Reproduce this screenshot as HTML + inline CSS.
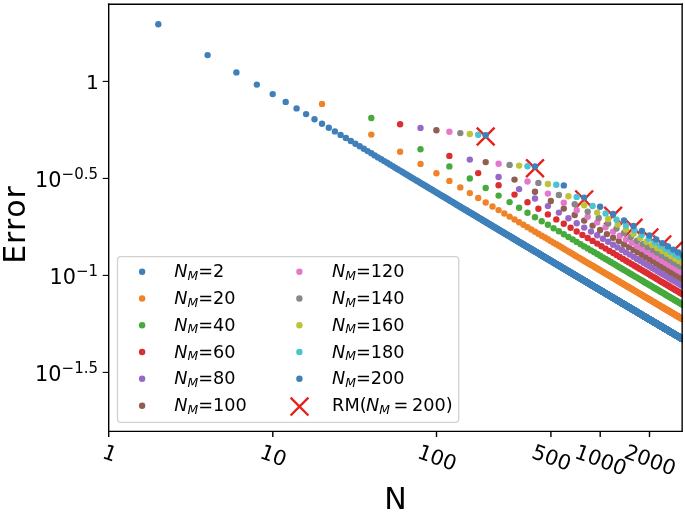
<!DOCTYPE html>
<html lang="en"><head><meta charset="utf-8"><title>Error vs N</title>
<style>html,body{margin:0;padding:0;background:#fff;}svg{display:block;will-change:transform;}text{font-family:'DejaVu Sans','Liberation Sans',sans-serif;fill:#000;font-kerning:none;}</style></head><body>
<svg width="685" height="512" viewBox="0 0 685 512">
<rect width="685" height="512" fill="#fff"/>
<defs><clipPath id="ax"><rect x="108.9" y="3.7" width="573.7" height="427.40000000000003"/></clipPath></defs>
<g clip-path="url(#ax)">
<g stroke="#e8201c" stroke-width="2.4" stroke-linecap="butt">
<path d="M476.8 127.6L494.6 145.4M476.8 145.4L494.6 127.6"/>
<path d="M526.1 159.4L543.9 177.2M526.1 177.2L543.9 159.4"/>
<path d="M575.3 190.5L593.1 208.3M575.3 208.3L593.1 190.5"/>
<path d="M604.2 206.8L622.0 224.6M604.2 224.6L622.0 206.8"/>
<path d="M624.6 218.9L642.4 236.7M624.6 236.7L642.4 218.9"/>
<path d="M640.5 228.5L658.3 246.3M640.5 246.3L658.3 228.5"/>
<path d="M653.4 235.5L671.2 253.3M653.4 253.3L671.2 235.5"/>
<path d="M664.4 242.0L682.2 259.8M664.4 259.8L682.2 242.0"/>
<path d="M673.9 248.1L691.7 265.9M673.9 265.9L691.7 248.1"/>
</g>
<g fill="#3f80ba">
<circle cx="158.3" cy="24.3" r="3.2"/>
<circle cx="207.6" cy="55.1" r="3.2"/>
<circle cx="236.4" cy="72.4" r="3.2"/>
<circle cx="256.8" cy="84.6" r="3.2"/>
<circle cx="272.7" cy="94.1" r="3.2"/>
<circle cx="285.7" cy="101.9" r="3.2"/>
<circle cx="296.6" cy="108.4" r="3.2"/>
<circle cx="306.1" cy="114.1" r="3.2"/>
<circle cx="314.5" cy="119.2" r="3.2"/>
<circle cx="322.0" cy="123.7" r="3.2"/>
<circle cx="328.8" cy="127.7" r="3.2"/>
<circle cx="334.9" cy="131.4" r="3.2"/>
<circle cx="340.6" cy="134.9" r="3.2"/>
<circle cx="345.9" cy="138.0" r="3.2"/>
<circle cx="350.8" cy="141.0" r="3.2"/>
<circle cx="355.4" cy="143.7" r="3.2"/>
<circle cx="359.7" cy="146.3" r="3.2"/>
<circle cx="363.8" cy="148.8" r="3.2"/>
<circle cx="367.6" cy="151.1" r="3.2"/>
<circle cx="371.3" cy="153.3" r="3.2"/>
<circle cx="374.7" cy="155.4" r="3.2"/>
<circle cx="378.0" cy="157.4" r="3.2"/>
<circle cx="381.2" cy="159.3" r="3.2"/>
<circle cx="384.2" cy="161.1" r="3.2"/>
<circle cx="387.1" cy="162.8" r="3.2"/>
<circle cx="389.9" cy="164.5" r="3.2"/>
<circle cx="392.6" cy="166.1" r="3.2"/>
<circle cx="395.2" cy="167.7" r="3.2"/>
<circle cx="397.7" cy="169.2" r="3.2"/>
<circle cx="400.1" cy="170.6" r="3.2"/>
<circle cx="402.4" cy="172.0" r="3.2"/>
<circle cx="404.7" cy="173.4" r="3.2"/>
<circle cx="406.9" cy="174.7" r="3.2"/>
<circle cx="409.0" cy="176.0" r="3.2"/>
<circle cx="411.0" cy="177.2" r="3.2"/>
<circle cx="413.0" cy="178.4" r="3.2"/>
<circle cx="415.0" cy="179.6" r="3.2"/>
<circle cx="416.9" cy="180.7" r="3.2"/>
<circle cx="418.7" cy="181.8" r="3.2"/>
<circle cx="420.5" cy="182.9" r="3.2"/>
<circle cx="422.3" cy="184.0" r="3.2"/>
<circle cx="424.0" cy="185.0" r="3.2"/>
<circle cx="425.7" cy="186.0" r="3.2"/>
<circle cx="427.3" cy="187.0" r="3.2"/>
<circle cx="428.9" cy="187.9" r="3.2"/>
<circle cx="430.5" cy="188.9" r="3.2"/>
<circle cx="432.0" cy="189.8" r="3.2"/>
<circle cx="433.5" cy="190.7" r="3.2"/>
<circle cx="435.0" cy="191.6" r="3.2"/>
<circle cx="436.4" cy="192.4" r="3.2"/>
<circle cx="437.8" cy="193.3" r="3.2"/>
<circle cx="439.2" cy="194.1" r="3.2"/>
<circle cx="440.5" cy="194.9" r="3.2"/>
<circle cx="441.9" cy="195.7" r="3.2"/>
<circle cx="443.2" cy="196.5" r="3.2"/>
<circle cx="444.5" cy="197.3" r="3.2"/>
<circle cx="445.7" cy="198.0" r="3.2"/>
<circle cx="447.0" cy="198.8" r="3.2"/>
<circle cx="448.2" cy="199.5" r="3.2"/>
<circle cx="449.4" cy="200.2" r="3.2"/>
<circle cx="450.5" cy="200.9" r="3.2"/>
<circle cx="451.7" cy="201.6" r="3.2"/>
<circle cx="452.8" cy="202.3" r="3.2"/>
<circle cx="454.0" cy="203.0" r="3.2"/>
<circle cx="455.1" cy="203.6" r="3.2"/>
<circle cx="456.1" cy="204.3" r="3.2"/>
<circle cx="457.2" cy="204.9" r="3.2"/>
<circle cx="458.3" cy="205.6" r="3.2"/>
<circle cx="459.3" cy="206.2" r="3.2"/>
<circle cx="460.3" cy="206.8" r="3.2"/>
<circle cx="461.3" cy="207.4" r="3.2"/>
<circle cx="462.3" cy="208.0" r="3.2"/>
<circle cx="463.3" cy="208.6" r="3.2"/>
<circle cx="464.3" cy="209.2" r="3.2"/>
<circle cx="465.2" cy="209.7" r="3.2"/>
<circle cx="466.2" cy="210.3" r="3.2"/>
<circle cx="467.1" cy="210.8" r="3.2"/>
<circle cx="468.0" cy="211.4" r="3.2"/>
<circle cx="468.9" cy="211.9" r="3.2"/>
<circle cx="469.8" cy="212.5" r="3.2"/>
<circle cx="470.7" cy="213.0" r="3.2"/>
<circle cx="471.6" cy="213.5" r="3.2"/>
<circle cx="472.4" cy="214.0" r="3.2"/>
<circle cx="473.3" cy="214.5" r="3.2"/>
<circle cx="474.1" cy="215.0" r="3.2"/>
<circle cx="475.0" cy="215.5" r="3.2"/>
<circle cx="475.8" cy="216.0" r="3.2"/>
<circle cx="476.6" cy="216.5" r="3.2"/>
<circle cx="477.4" cy="217.0" r="3.2"/>
<circle cx="478.2" cy="217.5" r="3.2"/>
<circle cx="479.0" cy="217.9" r="3.2"/>
<circle cx="479.8" cy="218.4" r="3.2"/>
<circle cx="480.5" cy="218.9" r="3.2"/>
<circle cx="481.3" cy="219.3" r="3.2"/>
<circle cx="482.0" cy="219.8" r="3.2"/>
<circle cx="482.8" cy="220.2" r="3.2"/>
<circle cx="483.5" cy="220.7" r="3.2"/>
<circle cx="484.2" cy="221.1" r="3.2"/>
<circle cx="485.0" cy="221.5" r="3.2"/>
<circle cx="485.7" cy="222.0" r="3.2"/>
<circle cx="486.4" cy="222.4" r="3.2"/>
<circle cx="487.1" cy="222.8" r="3.2"/>
<circle cx="487.8" cy="223.2" r="3.2"/>
<circle cx="488.5" cy="223.6" r="3.2"/>
<circle cx="489.1" cy="224.0" r="3.2"/>
<circle cx="489.8" cy="224.4" r="3.2"/>
<circle cx="490.5" cy="224.8" r="3.2"/>
<circle cx="491.2" cy="225.2" r="3.2"/>
<circle cx="491.8" cy="225.6" r="3.2"/>
<circle cx="492.5" cy="226.0" r="3.2"/>
<circle cx="493.1" cy="226.4" r="3.2"/>
<circle cx="493.7" cy="226.8" r="3.2"/>
<circle cx="494.4" cy="227.1" r="3.2"/>
<circle cx="495.0" cy="227.5" r="3.2"/>
<circle cx="495.6" cy="227.9" r="3.2"/>
<circle cx="496.2" cy="228.3" r="3.2"/>
<circle cx="496.8" cy="228.6" r="3.2"/>
<circle cx="497.4" cy="229.0" r="3.2"/>
<circle cx="498.0" cy="229.3" r="3.2"/>
<circle cx="498.6" cy="229.7" r="3.2"/>
<circle cx="499.2" cy="230.1" r="3.2"/>
<circle cx="499.8" cy="230.4" r="3.2"/>
<circle cx="500.4" cy="230.7" r="3.2"/>
<circle cx="501.0" cy="231.1" r="3.2"/>
<circle cx="501.5" cy="231.4" r="3.2"/>
<circle cx="502.1" cy="231.8" r="3.2"/>
<circle cx="502.7" cy="232.1" r="3.2"/>
<circle cx="503.2" cy="232.4" r="3.2"/>
<circle cx="503.8" cy="232.8" r="3.2"/>
<circle cx="504.3" cy="233.1" r="3.2"/>
<circle cx="504.9" cy="233.4" r="3.2"/>
<circle cx="505.4" cy="233.7" r="3.2"/>
<circle cx="506.0" cy="234.1" r="3.2"/>
<circle cx="506.5" cy="234.4" r="3.2"/>
<circle cx="507.0" cy="234.7" r="3.2"/>
<circle cx="507.5" cy="235.0" r="3.2"/>
<circle cx="508.1" cy="235.3" r="3.2"/>
<circle cx="508.6" cy="235.6" r="3.2"/>
<circle cx="509.1" cy="235.9" r="3.2"/>
<circle cx="509.6" cy="236.2" r="3.2"/>
<circle cx="510.1" cy="236.5" r="3.2"/>
<circle cx="510.6" cy="236.8" r="3.2"/>
<circle cx="511.1" cy="237.1" r="3.2"/>
<circle cx="511.6" cy="237.4" r="3.2"/>
<circle cx="512.1" cy="237.7" r="3.2"/>
<circle cx="512.6" cy="238.0" r="3.2"/>
<circle cx="513.1" cy="238.3" r="3.2"/>
<circle cx="513.6" cy="238.6" r="3.2"/>
<circle cx="514.0" cy="238.9" r="3.2"/>
<circle cx="514.5" cy="239.2" r="3.2"/>
<circle cx="515.0" cy="239.4" r="3.2"/>
<circle cx="515.4" cy="239.7" r="3.2"/>
<circle cx="515.9" cy="240.0" r="3.2"/>
<circle cx="516.4" cy="240.3" r="3.2"/>
<circle cx="516.8" cy="240.6" r="3.2"/>
<circle cx="517.3" cy="240.8" r="3.2"/>
<circle cx="517.7" cy="241.1" r="3.2"/>
<circle cx="518.2" cy="241.4" r="3.2"/>
<circle cx="518.6" cy="241.6" r="3.2"/>
<circle cx="519.1" cy="241.9" r="3.2"/>
<circle cx="519.5" cy="242.2" r="3.2"/>
<circle cx="520.0" cy="242.4" r="3.2"/>
<circle cx="520.4" cy="242.7" r="3.2"/>
<circle cx="520.8" cy="243.0" r="3.2"/>
<circle cx="521.3" cy="243.2" r="3.2"/>
<circle cx="521.7" cy="243.5" r="3.2"/>
<circle cx="522.1" cy="243.7" r="3.2"/>
<circle cx="522.6" cy="244.0" r="3.2"/>
<circle cx="523.0" cy="244.2" r="3.2"/>
<circle cx="523.4" cy="244.5" r="3.2"/>
<circle cx="523.8" cy="244.7" r="3.2"/>
<circle cx="524.2" cy="245.0" r="3.2"/>
<circle cx="524.6" cy="245.2" r="3.2"/>
<circle cx="525.1" cy="245.5" r="3.2"/>
<circle cx="525.5" cy="245.7" r="3.2"/>
<circle cx="525.9" cy="245.9" r="3.2"/>
<circle cx="526.3" cy="246.2" r="3.2"/>
<circle cx="526.7" cy="246.4" r="3.2"/>
<circle cx="527.1" cy="246.7" r="3.2"/>
<circle cx="527.5" cy="246.9" r="3.2"/>
<circle cx="527.9" cy="247.1" r="3.2"/>
<circle cx="528.3" cy="247.4" r="3.2"/>
<circle cx="528.6" cy="247.6" r="3.2"/>
<circle cx="529.0" cy="247.8" r="3.2"/>
<circle cx="529.4" cy="248.1" r="3.2"/>
<circle cx="529.8" cy="248.3" r="3.2"/>
<circle cx="530.2" cy="248.5" r="3.2"/>
<circle cx="530.6" cy="248.7" r="3.2"/>
<circle cx="530.9" cy="249.0" r="3.2"/>
<circle cx="531.3" cy="249.2" r="3.2"/>
<circle cx="531.7" cy="249.4" r="3.2"/>
<circle cx="532.1" cy="249.6" r="3.2"/>
<circle cx="532.4" cy="249.8" r="3.2"/>
<circle cx="532.8" cy="250.1" r="3.2"/>
<circle cx="533.2" cy="250.3" r="3.2"/>
<circle cx="533.5" cy="250.5" r="3.2"/>
<circle cx="533.9" cy="250.7" r="3.2"/>
<circle cx="534.2" cy="250.9" r="3.2"/>
<circle cx="534.6" cy="251.1" r="3.2"/>
<circle cx="535.0" cy="251.4" r="3.2"/>
<circle cx="535.3" cy="251.6" r="3.2"/>
<circle cx="535.7" cy="251.8" r="3.2"/>
<circle cx="536.0" cy="252.0" r="3.2"/>
<circle cx="536.4" cy="252.2" r="3.2"/>
<circle cx="536.7" cy="252.4" r="3.2"/>
<circle cx="537.1" cy="252.6" r="3.2"/>
<circle cx="537.4" cy="252.8" r="3.2"/>
<circle cx="537.7" cy="253.0" r="3.2"/>
<circle cx="538.1" cy="253.2" r="3.2"/>
<circle cx="538.4" cy="253.4" r="3.2"/>
<circle cx="538.8" cy="253.6" r="3.2"/>
<circle cx="539.1" cy="253.8" r="3.2"/>
<circle cx="539.4" cy="254.0" r="3.2"/>
<circle cx="539.8" cy="254.2" r="3.2"/>
<circle cx="540.1" cy="254.4" r="3.2"/>
<circle cx="540.4" cy="254.6" r="3.2"/>
<circle cx="540.8" cy="254.8" r="3.2"/>
<circle cx="541.1" cy="255.0" r="3.2"/>
<circle cx="541.4" cy="255.2" r="3.2"/>
<circle cx="541.7" cy="255.4" r="3.2"/>
<circle cx="542.1" cy="255.6" r="3.2"/>
<circle cx="542.4" cy="255.8" r="3.2"/>
<circle cx="542.7" cy="256.0" r="3.2"/>
<circle cx="543.0" cy="256.2" r="3.2"/>
<circle cx="543.3" cy="256.3" r="3.2"/>
<circle cx="543.6" cy="256.5" r="3.2"/>
<circle cx="544.0" cy="256.7" r="3.2"/>
<circle cx="544.3" cy="256.9" r="3.2"/>
<circle cx="544.6" cy="257.1" r="3.2"/>
<circle cx="544.9" cy="257.3" r="3.2"/>
<circle cx="545.2" cy="257.5" r="3.2"/>
<circle cx="545.5" cy="257.6" r="3.2"/>
<circle cx="545.8" cy="257.8" r="3.2"/>
<circle cx="546.1" cy="258.0" r="3.2"/>
<circle cx="546.4" cy="258.2" r="3.2"/>
<circle cx="546.7" cy="258.4" r="3.2"/>
<circle cx="547.0" cy="258.5" r="3.2"/>
<circle cx="547.3" cy="258.7" r="3.2"/>
<circle cx="547.6" cy="258.9" r="3.2"/>
<circle cx="547.9" cy="259.1" r="3.2"/>
<circle cx="548.2" cy="259.3" r="3.2"/>
<circle cx="548.5" cy="259.4" r="3.2"/>
<circle cx="548.8" cy="259.6" r="3.2"/>
<circle cx="549.1" cy="259.8" r="3.2"/>
<circle cx="549.4" cy="259.9" r="3.2"/>
<circle cx="549.7" cy="260.1" r="3.2"/>
<circle cx="550.0" cy="260.3" r="3.2"/>
<circle cx="550.3" cy="260.5" r="3.2"/>
<circle cx="550.5" cy="260.6" r="3.2"/>
<circle cx="550.8" cy="260.8" r="3.2"/>
<circle cx="551.1" cy="261.0" r="3.2"/>
<circle cx="551.4" cy="261.1" r="3.2"/>
<circle cx="551.7" cy="261.3" r="3.2"/>
<circle cx="551.9" cy="261.5" r="3.2"/>
<circle cx="552.2" cy="261.6" r="3.2"/>
<circle cx="552.5" cy="261.8" r="3.2"/>
<circle cx="552.8" cy="262.0" r="3.2"/>
<circle cx="553.1" cy="262.1" r="3.2"/>
<circle cx="553.3" cy="262.3" r="3.2"/>
<circle cx="553.6" cy="262.5" r="3.2"/>
<circle cx="553.9" cy="262.6" r="3.2"/>
<circle cx="554.2" cy="262.8" r="3.2"/>
<circle cx="554.4" cy="262.9" r="3.2"/>
<circle cx="554.7" cy="263.1" r="3.2"/>
<circle cx="555.0" cy="263.3" r="3.2"/>
<circle cx="555.2" cy="263.4" r="3.2"/>
<circle cx="555.5" cy="263.6" r="3.2"/>
<circle cx="555.8" cy="263.7" r="3.2"/>
<circle cx="556.0" cy="263.9" r="3.2"/>
<circle cx="556.3" cy="264.1" r="3.2"/>
<circle cx="556.6" cy="264.2" r="3.2"/>
<circle cx="556.8" cy="264.4" r="3.2"/>
<circle cx="557.1" cy="264.5" r="3.2"/>
<circle cx="557.3" cy="264.7" r="3.2"/>
<circle cx="557.6" cy="264.8" r="3.2"/>
<circle cx="557.9" cy="265.0" r="3.2"/>
<circle cx="558.1" cy="265.1" r="3.2"/>
<circle cx="558.4" cy="265.3" r="3.2"/>
<circle cx="558.6" cy="265.4" r="3.2"/>
<circle cx="558.9" cy="265.6" r="3.2"/>
<circle cx="559.1" cy="265.7" r="3.2"/>
<circle cx="559.4" cy="265.9" r="3.2"/>
<circle cx="559.6" cy="266.0" r="3.2"/>
<circle cx="559.9" cy="266.2" r="3.2"/>
<circle cx="560.1" cy="266.3" r="3.2"/>
<circle cx="560.4" cy="266.5" r="3.2"/>
<circle cx="560.6" cy="266.6" r="3.2"/>
<circle cx="560.9" cy="266.8" r="3.2"/>
<circle cx="561.1" cy="266.9" r="3.2"/>
<circle cx="561.4" cy="267.1" r="3.2"/>
<circle cx="561.6" cy="267.2" r="3.2"/>
<circle cx="561.9" cy="267.4" r="3.2"/>
<circle cx="562.1" cy="267.5" r="3.2"/>
<circle cx="562.3" cy="267.7" r="3.2"/>
<circle cx="562.6" cy="267.8" r="3.2"/>
<circle cx="562.8" cy="267.9" r="3.2"/>
<circle cx="563.1" cy="268.1" r="3.2"/>
<circle cx="563.3" cy="268.2" r="3.2"/>
<circle cx="563.5" cy="268.4" r="3.2"/>
<circle cx="563.8" cy="268.5" r="3.2"/>
<circle cx="564.0" cy="268.7" r="3.2"/>
<circle cx="564.3" cy="268.8" r="3.2"/>
<circle cx="564.5" cy="268.9" r="3.2"/>
<circle cx="564.7" cy="269.1" r="3.2"/>
<circle cx="565.0" cy="269.2" r="3.2"/>
<circle cx="565.2" cy="269.4" r="3.2"/>
<circle cx="565.4" cy="269.5" r="3.2"/>
<circle cx="565.7" cy="269.6" r="3.2"/>
<circle cx="565.9" cy="269.8" r="3.2"/>
<circle cx="566.1" cy="269.9" r="3.2"/>
<circle cx="566.3" cy="270.0" r="3.2"/>
<circle cx="566.6" cy="270.2" r="3.2"/>
<circle cx="566.8" cy="270.3" r="3.2"/>
<circle cx="567.0" cy="270.4" r="3.2"/>
<circle cx="567.3" cy="270.6" r="3.2"/>
<circle cx="567.5" cy="270.7" r="3.2"/>
<circle cx="567.7" cy="270.8" r="3.2"/>
<circle cx="567.9" cy="271.0" r="3.2"/>
<circle cx="568.1" cy="271.1" r="3.2"/>
<circle cx="568.4" cy="271.2" r="3.2"/>
<circle cx="568.6" cy="271.4" r="3.2"/>
<circle cx="568.8" cy="271.5" r="3.2"/>
<circle cx="569.0" cy="271.6" r="3.2"/>
<circle cx="569.3" cy="271.8" r="3.2"/>
<circle cx="569.5" cy="271.9" r="3.2"/>
<circle cx="569.7" cy="272.0" r="3.2"/>
<circle cx="569.9" cy="272.2" r="3.2"/>
<circle cx="570.1" cy="272.3" r="3.2"/>
<circle cx="570.3" cy="272.4" r="3.2"/>
<circle cx="570.6" cy="272.5" r="3.2"/>
<circle cx="570.8" cy="272.7" r="3.2"/>
<circle cx="571.0" cy="272.8" r="3.2"/>
<circle cx="571.2" cy="272.9" r="3.2"/>
<circle cx="571.4" cy="273.1" r="3.2"/>
<circle cx="571.6" cy="273.2" r="3.2"/>
<circle cx="571.8" cy="273.3" r="3.2"/>
<circle cx="572.1" cy="273.4" r="3.2"/>
<circle cx="572.3" cy="273.6" r="3.2"/>
<circle cx="572.5" cy="273.7" r="3.2"/>
<circle cx="572.7" cy="273.8" r="3.2"/>
<circle cx="572.9" cy="273.9" r="3.2"/>
<circle cx="573.1" cy="274.1" r="3.2"/>
<circle cx="573.3" cy="274.2" r="3.2"/>
<circle cx="573.5" cy="274.3" r="3.2"/>
<circle cx="573.7" cy="274.4" r="3.2"/>
<circle cx="573.9" cy="274.5" r="3.2"/>
<circle cx="574.1" cy="274.7" r="3.2"/>
<circle cx="574.3" cy="274.8" r="3.2"/>
<circle cx="574.5" cy="274.9" r="3.2"/>
<circle cx="574.7" cy="275.0" r="3.2"/>
<circle cx="574.9" cy="275.2" r="3.2"/>
<circle cx="575.1" cy="275.3" r="3.2"/>
<circle cx="575.3" cy="275.4" r="3.2"/>
<circle cx="575.6" cy="275.5" r="3.2"/>
<circle cx="575.8" cy="275.6" r="3.2"/>
<circle cx="576.0" cy="275.7" r="3.2"/>
<circle cx="576.2" cy="275.9" r="3.2"/>
<circle cx="576.3" cy="276.0" r="3.2"/>
<circle cx="576.5" cy="276.1" r="3.2"/>
<circle cx="576.7" cy="276.2" r="3.2"/>
<circle cx="576.9" cy="276.3" r="3.2"/>
<circle cx="577.1" cy="276.5" r="3.2"/>
<circle cx="577.3" cy="276.6" r="3.2"/>
<circle cx="577.5" cy="276.7" r="3.2"/>
<circle cx="577.7" cy="276.8" r="3.2"/>
<circle cx="577.9" cy="276.9" r="3.2"/>
<circle cx="578.1" cy="277.0" r="3.2"/>
<circle cx="578.3" cy="277.2" r="3.2"/>
<circle cx="578.5" cy="277.3" r="3.2"/>
<circle cx="578.7" cy="277.4" r="3.2"/>
<circle cx="578.9" cy="277.5" r="3.2"/>
<circle cx="579.1" cy="277.6" r="3.2"/>
<circle cx="579.3" cy="277.7" r="3.2"/>
<circle cx="579.5" cy="277.8" r="3.2"/>
<circle cx="579.6" cy="277.9" r="3.2"/>
<circle cx="579.8" cy="278.1" r="3.2"/>
<circle cx="580.0" cy="278.2" r="3.2"/>
<circle cx="580.2" cy="278.3" r="3.2"/>
<circle cx="580.4" cy="278.4" r="3.2"/>
<circle cx="580.6" cy="278.5" r="3.2"/>
<circle cx="580.8" cy="278.6" r="3.2"/>
<circle cx="581.0" cy="278.7" r="3.2"/>
<circle cx="581.1" cy="278.8" r="3.2"/>
<circle cx="581.3" cy="278.9" r="3.2"/>
<circle cx="581.5" cy="279.1" r="3.2"/>
<circle cx="581.7" cy="279.2" r="3.2"/>
<circle cx="581.9" cy="279.3" r="3.2"/>
<circle cx="582.1" cy="279.4" r="3.2"/>
<circle cx="582.3" cy="279.5" r="3.2"/>
<circle cx="582.4" cy="279.6" r="3.2"/>
<circle cx="582.6" cy="279.7" r="3.2"/>
<circle cx="582.8" cy="279.8" r="3.2"/>
<circle cx="583.0" cy="279.9" r="3.2"/>
<circle cx="583.2" cy="280.0" r="3.2"/>
<circle cx="583.3" cy="280.1" r="3.2"/>
<circle cx="583.5" cy="280.2" r="3.2"/>
<circle cx="583.7" cy="280.4" r="3.2"/>
<circle cx="583.9" cy="280.5" r="3.2"/>
<circle cx="584.1" cy="280.6" r="3.2"/>
<circle cx="584.2" cy="280.7" r="3.2"/>
<circle cx="584.4" cy="280.8" r="3.2"/>
<circle cx="584.6" cy="280.9" r="3.2"/>
<circle cx="584.8" cy="281.0" r="3.2"/>
<circle cx="584.9" cy="281.1" r="3.2"/>
<circle cx="585.1" cy="281.2" r="3.2"/>
<circle cx="585.3" cy="281.3" r="3.2"/>
<circle cx="585.5" cy="281.4" r="3.2"/>
<circle cx="585.6" cy="281.5" r="3.2"/>
<circle cx="585.8" cy="281.6" r="3.2"/>
<circle cx="586.0" cy="281.7" r="3.2"/>
<circle cx="586.2" cy="281.8" r="3.2"/>
<circle cx="586.3" cy="281.9" r="3.2"/>
<circle cx="586.5" cy="282.0" r="3.2"/>
<circle cx="586.7" cy="282.1" r="3.2"/>
<circle cx="586.9" cy="282.2" r="3.2"/>
<circle cx="587.0" cy="282.3" r="3.2"/>
<circle cx="587.2" cy="282.4" r="3.2"/>
<circle cx="587.4" cy="282.5" r="3.2"/>
<circle cx="587.5" cy="282.6" r="3.2"/>
<circle cx="587.7" cy="282.7" r="3.2"/>
<circle cx="587.9" cy="282.8" r="3.2"/>
<circle cx="588.0" cy="282.9" r="3.2"/>
<circle cx="588.2" cy="283.0" r="3.2"/>
<circle cx="588.4" cy="283.1" r="3.2"/>
<circle cx="588.5" cy="283.2" r="3.2"/>
<circle cx="588.7" cy="283.3" r="3.2"/>
<circle cx="588.9" cy="283.4" r="3.2"/>
<circle cx="589.0" cy="283.5" r="3.2"/>
<circle cx="589.2" cy="283.6" r="3.2"/>
<circle cx="589.4" cy="283.7" r="3.2"/>
<circle cx="589.5" cy="283.8" r="3.2"/>
<circle cx="589.7" cy="283.9" r="3.2"/>
<circle cx="589.9" cy="284.0" r="3.2"/>
<circle cx="590.0" cy="284.1" r="3.2"/>
<circle cx="590.2" cy="284.2" r="3.2"/>
<circle cx="590.4" cy="284.3" r="3.2"/>
<circle cx="590.5" cy="284.4" r="3.2"/>
<circle cx="590.7" cy="284.5" r="3.2"/>
<circle cx="590.9" cy="284.6" r="3.2"/>
<circle cx="591.0" cy="284.7" r="3.2"/>
<circle cx="591.2" cy="284.8" r="3.2"/>
<circle cx="591.3" cy="284.9" r="3.2"/>
<circle cx="591.5" cy="285.0" r="3.2"/>
<circle cx="591.7" cy="285.1" r="3.2"/>
<circle cx="591.8" cy="285.2" r="3.2"/>
<circle cx="592.0" cy="285.3" r="3.2"/>
<circle cx="592.1" cy="285.4" r="3.2"/>
<circle cx="592.3" cy="285.5" r="3.2"/>
<circle cx="592.5" cy="285.6" r="3.2"/>
<circle cx="592.6" cy="285.6" r="3.2"/>
<circle cx="592.8" cy="285.7" r="3.2"/>
<circle cx="592.9" cy="285.8" r="3.2"/>
<circle cx="593.1" cy="285.9" r="3.2"/>
<circle cx="593.2" cy="286.0" r="3.2"/>
<circle cx="593.4" cy="286.1" r="3.2"/>
<circle cx="593.6" cy="286.2" r="3.2"/>
<circle cx="593.7" cy="286.3" r="3.2"/>
<circle cx="593.9" cy="286.4" r="3.2"/>
<circle cx="594.0" cy="286.5" r="3.2"/>
<circle cx="594.2" cy="286.6" r="3.2"/>
<circle cx="594.3" cy="286.7" r="3.2"/>
<circle cx="594.5" cy="286.8" r="3.2"/>
<circle cx="594.6" cy="286.9" r="3.2"/>
<circle cx="594.8" cy="286.9" r="3.2"/>
<circle cx="594.9" cy="287.0" r="3.2"/>
<circle cx="595.1" cy="287.1" r="3.2"/>
<circle cx="595.2" cy="287.2" r="3.2"/>
<circle cx="595.4" cy="287.3" r="3.2"/>
<circle cx="595.5" cy="287.4" r="3.2"/>
<circle cx="595.7" cy="287.5" r="3.2"/>
<circle cx="595.9" cy="287.6" r="3.2"/>
<circle cx="596.0" cy="287.7" r="3.2"/>
<circle cx="596.2" cy="287.8" r="3.2"/>
<circle cx="596.3" cy="287.8" r="3.2"/>
<circle cx="596.5" cy="287.9" r="3.2"/>
<circle cx="596.6" cy="288.0" r="3.2"/>
<circle cx="596.8" cy="288.1" r="3.2"/>
<circle cx="596.9" cy="288.2" r="3.2"/>
<circle cx="597.0" cy="288.3" r="3.2"/>
<circle cx="597.2" cy="288.4" r="3.2"/>
<circle cx="597.3" cy="288.5" r="3.2"/>
<circle cx="597.5" cy="288.5" r="3.2"/>
<circle cx="597.6" cy="288.6" r="3.2"/>
<circle cx="597.8" cy="288.7" r="3.2"/>
<circle cx="597.9" cy="288.8" r="3.2"/>
<circle cx="598.1" cy="288.9" r="3.2"/>
<circle cx="598.2" cy="289.0" r="3.2"/>
<circle cx="598.4" cy="289.1" r="3.2"/>
<circle cx="598.5" cy="289.2" r="3.2"/>
<circle cx="598.7" cy="289.2" r="3.2"/>
<circle cx="598.8" cy="289.3" r="3.2"/>
<circle cx="599.0" cy="289.4" r="3.2"/>
<circle cx="599.1" cy="289.5" r="3.2"/>
<circle cx="599.2" cy="289.6" r="3.2"/>
<circle cx="599.4" cy="289.7" r="3.2"/>
<circle cx="599.5" cy="289.8" r="3.2"/>
<circle cx="599.7" cy="289.8" r="3.2"/>
<circle cx="599.8" cy="289.9" r="3.2"/>
<circle cx="600.0" cy="290.0" r="3.2"/>
<circle cx="600.1" cy="290.1" r="3.2"/>
<circle cx="600.2" cy="290.2" r="3.2"/>
<circle cx="600.4" cy="290.3" r="3.2"/>
<circle cx="600.5" cy="290.4" r="3.2"/>
<circle cx="600.7" cy="290.4" r="3.2"/>
<circle cx="600.8" cy="290.5" r="3.2"/>
<circle cx="600.9" cy="290.6" r="3.2"/>
<circle cx="601.1" cy="290.7" r="3.2"/>
<circle cx="601.2" cy="290.8" r="3.2"/>
<circle cx="601.4" cy="290.9" r="3.2"/>
<circle cx="601.5" cy="290.9" r="3.2"/>
<circle cx="601.6" cy="291.0" r="3.2"/>
<circle cx="601.8" cy="291.1" r="3.2"/>
<circle cx="601.9" cy="291.2" r="3.2"/>
<circle cx="602.1" cy="291.3" r="3.2"/>
<circle cx="602.2" cy="291.3" r="3.2"/>
<circle cx="602.3" cy="291.4" r="3.2"/>
<circle cx="602.5" cy="291.5" r="3.2"/>
<circle cx="602.6" cy="291.6" r="3.2"/>
<circle cx="602.8" cy="291.7" r="3.2"/>
<circle cx="602.9" cy="291.8" r="3.2"/>
<circle cx="603.0" cy="291.8" r="3.2"/>
<circle cx="603.2" cy="291.9" r="3.2"/>
<circle cx="603.3" cy="292.0" r="3.2"/>
<circle cx="603.4" cy="292.1" r="3.2"/>
<circle cx="603.6" cy="292.2" r="3.2"/>
<circle cx="603.7" cy="292.2" r="3.2"/>
<circle cx="603.8" cy="292.3" r="3.2"/>
<circle cx="604.0" cy="292.4" r="3.2"/>
<circle cx="604.1" cy="292.5" r="3.2"/>
<circle cx="604.2" cy="292.6" r="3.2"/>
<circle cx="604.4" cy="292.6" r="3.2"/>
<circle cx="604.5" cy="292.7" r="3.2"/>
<circle cx="604.6" cy="292.8" r="3.2"/>
<circle cx="604.8" cy="292.9" r="3.2"/>
<circle cx="604.9" cy="293.0" r="3.2"/>
<circle cx="605.0" cy="293.0" r="3.2"/>
<circle cx="605.2" cy="293.1" r="3.2"/>
<circle cx="605.3" cy="293.2" r="3.2"/>
<circle cx="605.4" cy="293.3" r="3.2"/>
<circle cx="605.6" cy="293.3" r="3.2"/>
<circle cx="605.7" cy="293.4" r="3.2"/>
<circle cx="605.8" cy="293.5" r="3.2"/>
<circle cx="606.0" cy="293.6" r="3.2"/>
<circle cx="606.1" cy="293.7" r="3.2"/>
<circle cx="606.2" cy="293.7" r="3.2"/>
<circle cx="606.4" cy="293.8" r="3.2"/>
<circle cx="606.5" cy="293.9" r="3.2"/>
<circle cx="606.6" cy="294.0" r="3.2"/>
<circle cx="606.7" cy="294.0" r="3.2"/>
<circle cx="606.9" cy="294.1" r="3.2"/>
<circle cx="607.0" cy="294.2" r="3.2"/>
<circle cx="607.1" cy="294.3" r="3.2"/>
<circle cx="607.3" cy="294.4" r="3.2"/>
<circle cx="607.4" cy="294.4" r="3.2"/>
<circle cx="607.5" cy="294.5" r="3.2"/>
<circle cx="607.6" cy="294.6" r="3.2"/>
<circle cx="607.8" cy="294.7" r="3.2"/>
<circle cx="607.9" cy="294.7" r="3.2"/>
<circle cx="608.0" cy="294.8" r="3.2"/>
<circle cx="608.2" cy="294.9" r="3.2"/>
<circle cx="608.3" cy="295.0" r="3.2"/>
<circle cx="608.4" cy="295.0" r="3.2"/>
<circle cx="608.5" cy="295.1" r="3.2"/>
<circle cx="608.7" cy="295.2" r="3.2"/>
<circle cx="608.8" cy="295.3" r="3.2"/>
<circle cx="608.9" cy="295.3" r="3.2"/>
<circle cx="609.0" cy="295.4" r="3.2"/>
<circle cx="609.2" cy="295.5" r="3.2"/>
<circle cx="609.3" cy="295.6" r="3.2"/>
<circle cx="609.4" cy="295.6" r="3.2"/>
<circle cx="609.5" cy="295.7" r="3.2"/>
<circle cx="609.7" cy="295.8" r="3.2"/>
<circle cx="609.8" cy="295.9" r="3.2"/>
<circle cx="609.9" cy="295.9" r="3.2"/>
<circle cx="610.0" cy="296.0" r="3.2"/>
<circle cx="610.2" cy="296.1" r="3.2"/>
<circle cx="610.3" cy="296.1" r="3.2"/>
<circle cx="610.4" cy="296.2" r="3.2"/>
<circle cx="610.5" cy="296.3" r="3.2"/>
<circle cx="610.7" cy="296.4" r="3.2"/>
<circle cx="610.8" cy="296.4" r="3.2"/>
<circle cx="610.9" cy="296.5" r="3.2"/>
<circle cx="611.0" cy="296.6" r="3.2"/>
<circle cx="611.1" cy="296.7" r="3.2"/>
<circle cx="611.3" cy="296.7" r="3.2"/>
<circle cx="611.4" cy="296.8" r="3.2"/>
<circle cx="611.5" cy="296.9" r="3.2"/>
<circle cx="611.6" cy="296.9" r="3.2"/>
<circle cx="611.7" cy="297.0" r="3.2"/>
<circle cx="611.9" cy="297.1" r="3.2"/>
<circle cx="612.0" cy="297.2" r="3.2"/>
<circle cx="612.1" cy="297.2" r="3.2"/>
<circle cx="612.2" cy="297.3" r="3.2"/>
<circle cx="612.3" cy="297.4" r="3.2"/>
<circle cx="612.5" cy="297.4" r="3.2"/>
<circle cx="612.6" cy="297.5" r="3.2"/>
<circle cx="612.7" cy="297.6" r="3.2"/>
<circle cx="612.8" cy="297.7" r="3.2"/>
<circle cx="612.9" cy="297.7" r="3.2"/>
<circle cx="613.1" cy="297.8" r="3.2"/>
<circle cx="613.2" cy="297.9" r="3.2"/>
<circle cx="613.3" cy="297.9" r="3.2"/>
<circle cx="613.4" cy="298.0" r="3.2"/>
<circle cx="613.5" cy="298.1" r="3.2"/>
<circle cx="613.7" cy="298.1" r="3.2"/>
<circle cx="613.8" cy="298.2" r="3.2"/>
<circle cx="613.9" cy="298.3" r="3.2"/>
<circle cx="614.0" cy="298.4" r="3.2"/>
<circle cx="614.1" cy="298.4" r="3.2"/>
<circle cx="614.2" cy="298.5" r="3.2"/>
<circle cx="614.4" cy="298.6" r="3.2"/>
<circle cx="614.5" cy="298.6" r="3.2"/>
<circle cx="614.6" cy="298.7" r="3.2"/>
<circle cx="614.7" cy="298.8" r="3.2"/>
<circle cx="614.8" cy="298.8" r="3.2"/>
<circle cx="614.9" cy="298.9" r="3.2"/>
<circle cx="615.0" cy="299.0" r="3.2"/>
<circle cx="615.2" cy="299.0" r="3.2"/>
<circle cx="615.3" cy="299.1" r="3.2"/>
<circle cx="615.4" cy="299.2" r="3.2"/>
<circle cx="615.5" cy="299.2" r="3.2"/>
<circle cx="615.6" cy="299.3" r="3.2"/>
<circle cx="615.7" cy="299.4" r="3.2"/>
<circle cx="615.9" cy="299.5" r="3.2"/>
<circle cx="616.0" cy="299.5" r="3.2"/>
<circle cx="616.1" cy="299.6" r="3.2"/>
<circle cx="616.2" cy="299.7" r="3.2"/>
<circle cx="616.3" cy="299.7" r="3.2"/>
<circle cx="616.4" cy="299.8" r="3.2"/>
<circle cx="616.5" cy="299.9" r="3.2"/>
<circle cx="616.6" cy="299.9" r="3.2"/>
<circle cx="616.8" cy="300.0" r="3.2"/>
<circle cx="616.9" cy="300.1" r="3.2"/>
<circle cx="617.0" cy="300.1" r="3.2"/>
<circle cx="617.1" cy="300.2" r="3.2"/>
<circle cx="617.2" cy="300.3" r="3.2"/>
<circle cx="617.3" cy="300.3" r="3.2"/>
<circle cx="617.4" cy="300.4" r="3.2"/>
<circle cx="617.5" cy="300.5" r="3.2"/>
<circle cx="617.7" cy="300.5" r="3.2"/>
<circle cx="617.8" cy="300.6" r="3.2"/>
<circle cx="617.9" cy="300.7" r="3.2"/>
<circle cx="618.0" cy="300.7" r="3.2"/>
<circle cx="618.1" cy="300.8" r="3.2"/>
<circle cx="618.2" cy="300.8" r="3.2"/>
<circle cx="618.3" cy="300.9" r="3.2"/>
<circle cx="618.4" cy="301.0" r="3.2"/>
<circle cx="618.5" cy="301.0" r="3.2"/>
<circle cx="618.6" cy="301.1" r="3.2"/>
<circle cx="618.8" cy="301.2" r="3.2"/>
<circle cx="618.9" cy="301.2" r="3.2"/>
<circle cx="619.0" cy="301.3" r="3.2"/>
<circle cx="619.1" cy="301.4" r="3.2"/>
<circle cx="619.2" cy="301.4" r="3.2"/>
<circle cx="619.3" cy="301.5" r="3.2"/>
<circle cx="619.4" cy="301.6" r="3.2"/>
<circle cx="619.5" cy="301.6" r="3.2"/>
<circle cx="619.6" cy="301.7" r="3.2"/>
<circle cx="619.7" cy="301.8" r="3.2"/>
<circle cx="619.8" cy="301.8" r="3.2"/>
<circle cx="619.9" cy="301.9" r="3.2"/>
<circle cx="620.1" cy="301.9" r="3.2"/>
<circle cx="620.2" cy="302.0" r="3.2"/>
<circle cx="620.3" cy="302.1" r="3.2"/>
<circle cx="620.4" cy="302.1" r="3.2"/>
<circle cx="620.5" cy="302.2" r="3.2"/>
<circle cx="620.6" cy="302.3" r="3.2"/>
<circle cx="620.7" cy="302.3" r="3.2"/>
<circle cx="620.8" cy="302.4" r="3.2"/>
<circle cx="620.9" cy="302.5" r="3.2"/>
<circle cx="621.0" cy="302.5" r="3.2"/>
<circle cx="621.1" cy="302.6" r="3.2"/>
<circle cx="621.2" cy="302.6" r="3.2"/>
<circle cx="621.3" cy="302.7" r="3.2"/>
<circle cx="621.4" cy="302.8" r="3.2"/>
<circle cx="621.5" cy="302.8" r="3.2"/>
<circle cx="621.6" cy="302.9" r="3.2"/>
<circle cx="621.8" cy="303.0" r="3.2"/>
<circle cx="621.9" cy="303.0" r="3.2"/>
<circle cx="622.0" cy="303.1" r="3.2"/>
<circle cx="622.1" cy="303.1" r="3.2"/>
<circle cx="622.2" cy="303.2" r="3.2"/>
<circle cx="622.3" cy="303.3" r="3.2"/>
<circle cx="622.4" cy="303.3" r="3.2"/>
<circle cx="622.5" cy="303.4" r="3.2"/>
<circle cx="622.6" cy="303.4" r="3.2"/>
<circle cx="622.7" cy="303.5" r="3.2"/>
<circle cx="622.8" cy="303.6" r="3.2"/>
<circle cx="622.9" cy="303.6" r="3.2"/>
<circle cx="623.0" cy="303.7" r="3.2"/>
<circle cx="623.1" cy="303.8" r="3.2"/>
<circle cx="623.2" cy="303.8" r="3.2"/>
<circle cx="623.3" cy="303.9" r="3.2"/>
<circle cx="623.4" cy="303.9" r="3.2"/>
<circle cx="623.5" cy="304.0" r="3.2"/>
<circle cx="623.6" cy="304.1" r="3.2"/>
<circle cx="623.7" cy="304.1" r="3.2"/>
<circle cx="623.8" cy="304.2" r="3.2"/>
<circle cx="623.9" cy="304.2" r="3.2"/>
<circle cx="624.0" cy="304.3" r="3.2"/>
<circle cx="624.1" cy="304.4" r="3.2"/>
<circle cx="624.2" cy="304.4" r="3.2"/>
<circle cx="624.3" cy="304.5" r="3.2"/>
<circle cx="624.4" cy="304.5" r="3.2"/>
<circle cx="624.5" cy="304.6" r="3.2"/>
<circle cx="624.6" cy="304.7" r="3.2"/>
<circle cx="624.7" cy="304.7" r="3.2"/>
<circle cx="624.8" cy="304.8" r="3.2"/>
<circle cx="624.9" cy="304.8" r="3.2"/>
<circle cx="625.0" cy="304.9" r="3.2"/>
<circle cx="625.1" cy="305.0" r="3.2"/>
<circle cx="625.2" cy="305.0" r="3.2"/>
<circle cx="625.3" cy="305.1" r="3.2"/>
<circle cx="625.4" cy="305.1" r="3.2"/>
<circle cx="625.5" cy="305.2" r="3.2"/>
<circle cx="625.6" cy="305.3" r="3.2"/>
<circle cx="625.7" cy="305.3" r="3.2"/>
<circle cx="625.8" cy="305.4" r="3.2"/>
<circle cx="625.9" cy="305.4" r="3.2"/>
<circle cx="626.0" cy="305.5" r="3.2"/>
<circle cx="626.1" cy="305.5" r="3.2"/>
<circle cx="626.2" cy="305.6" r="3.2"/>
<circle cx="626.3" cy="305.7" r="3.2"/>
<circle cx="626.4" cy="305.7" r="3.2"/>
<circle cx="626.5" cy="305.8" r="3.2"/>
<circle cx="626.6" cy="305.8" r="3.2"/>
<circle cx="626.7" cy="305.9" r="3.2"/>
<circle cx="626.8" cy="306.0" r="3.2"/>
<circle cx="626.9" cy="306.0" r="3.2"/>
<circle cx="627.0" cy="306.1" r="3.2"/>
<circle cx="627.1" cy="306.1" r="3.2"/>
<circle cx="627.2" cy="306.2" r="3.2"/>
<circle cx="627.3" cy="306.2" r="3.2"/>
<circle cx="627.4" cy="306.3" r="3.2"/>
<circle cx="627.5" cy="306.4" r="3.2"/>
<circle cx="627.6" cy="306.4" r="3.2"/>
<circle cx="627.7" cy="306.5" r="3.2"/>
<circle cx="627.8" cy="306.5" r="3.2"/>
<circle cx="627.9" cy="306.6" r="3.2"/>
<circle cx="628.0" cy="306.6" r="3.2"/>
<circle cx="628.1" cy="306.7" r="3.2"/>
<circle cx="628.2" cy="306.8" r="3.2"/>
<circle cx="628.3" cy="306.8" r="3.2"/>
<circle cx="628.4" cy="306.9" r="3.2"/>
<circle cx="628.5" cy="306.9" r="3.2"/>
<circle cx="628.5" cy="307.0" r="3.2"/>
<circle cx="628.6" cy="307.0" r="3.2"/>
<circle cx="628.7" cy="307.1" r="3.2"/>
<circle cx="628.8" cy="307.2" r="3.2"/>
<circle cx="628.9" cy="307.2" r="3.2"/>
<circle cx="629.0" cy="307.3" r="3.2"/>
<circle cx="629.1" cy="307.3" r="3.2"/>
<circle cx="629.2" cy="307.4" r="3.2"/>
<circle cx="629.3" cy="307.4" r="3.2"/>
<circle cx="629.4" cy="307.5" r="3.2"/>
<circle cx="629.5" cy="307.5" r="3.2"/>
<circle cx="629.6" cy="307.6" r="3.2"/>
<circle cx="629.7" cy="307.7" r="3.2"/>
<circle cx="629.8" cy="307.7" r="3.2"/>
<circle cx="629.9" cy="307.8" r="3.2"/>
<circle cx="630.0" cy="307.8" r="3.2"/>
<circle cx="630.1" cy="307.9" r="3.2"/>
<circle cx="630.1" cy="307.9" r="3.2"/>
<circle cx="630.2" cy="308.0" r="3.2"/>
<circle cx="630.3" cy="308.0" r="3.2"/>
<circle cx="630.4" cy="308.1" r="3.2"/>
<circle cx="630.5" cy="308.2" r="3.2"/>
<circle cx="630.6" cy="308.2" r="3.2"/>
<circle cx="630.7" cy="308.3" r="3.2"/>
<circle cx="630.8" cy="308.3" r="3.2"/>
<circle cx="630.9" cy="308.4" r="3.2"/>
<circle cx="631.0" cy="308.4" r="3.2"/>
<circle cx="631.1" cy="308.5" r="3.2"/>
<circle cx="631.2" cy="308.5" r="3.2"/>
<circle cx="631.3" cy="308.6" r="3.2"/>
<circle cx="631.3" cy="308.7" r="3.2"/>
<circle cx="631.4" cy="308.7" r="3.2"/>
<circle cx="631.5" cy="308.8" r="3.2"/>
<circle cx="631.6" cy="308.8" r="3.2"/>
<circle cx="631.7" cy="308.9" r="3.2"/>
<circle cx="631.8" cy="308.9" r="3.2"/>
<circle cx="631.9" cy="309.0" r="3.2"/>
<circle cx="632.0" cy="309.0" r="3.2"/>
<circle cx="632.1" cy="309.1" r="3.2"/>
<circle cx="632.2" cy="309.1" r="3.2"/>
<circle cx="632.3" cy="309.2" r="3.2"/>
<circle cx="632.3" cy="309.2" r="3.2"/>
<circle cx="632.4" cy="309.3" r="3.2"/>
<circle cx="632.5" cy="309.4" r="3.2"/>
<circle cx="632.6" cy="309.4" r="3.2"/>
<circle cx="632.7" cy="309.5" r="3.2"/>
<circle cx="632.8" cy="309.5" r="3.2"/>
<circle cx="632.9" cy="309.6" r="3.2"/>
<circle cx="633.0" cy="309.6" r="3.2"/>
<circle cx="633.1" cy="309.7" r="3.2"/>
<circle cx="633.2" cy="309.7" r="3.2"/>
<circle cx="633.2" cy="309.8" r="3.2"/>
<circle cx="633.3" cy="309.8" r="3.2"/>
<circle cx="633.4" cy="309.9" r="3.2"/>
<circle cx="633.5" cy="309.9" r="3.2"/>
<circle cx="633.6" cy="310.0" r="3.2"/>
<circle cx="633.7" cy="310.0" r="3.2"/>
<circle cx="633.8" cy="310.1" r="3.2"/>
<circle cx="633.9" cy="310.1" r="3.2"/>
<circle cx="634.0" cy="310.2" r="3.2"/>
<circle cx="634.0" cy="310.3" r="3.2"/>
<circle cx="634.1" cy="310.3" r="3.2"/>
<circle cx="634.2" cy="310.4" r="3.2"/>
<circle cx="634.3" cy="310.4" r="3.2"/>
<circle cx="634.4" cy="310.5" r="3.2"/>
<circle cx="634.5" cy="310.5" r="3.2"/>
<circle cx="634.6" cy="310.6" r="3.2"/>
<circle cx="634.7" cy="310.6" r="3.2"/>
<circle cx="634.7" cy="310.7" r="3.2"/>
<circle cx="634.8" cy="310.7" r="3.2"/>
<circle cx="634.9" cy="310.8" r="3.2"/>
<circle cx="635.0" cy="310.8" r="3.2"/>
<circle cx="635.1" cy="310.9" r="3.2"/>
<circle cx="635.2" cy="310.9" r="3.2"/>
<circle cx="635.3" cy="311.0" r="3.2"/>
<circle cx="635.4" cy="311.0" r="3.2"/>
<circle cx="635.4" cy="311.1" r="3.2"/>
<circle cx="635.5" cy="311.1" r="3.2"/>
<circle cx="635.6" cy="311.2" r="3.2"/>
<circle cx="635.7" cy="311.2" r="3.2"/>
<circle cx="635.8" cy="311.3" r="3.2"/>
<circle cx="635.9" cy="311.3" r="3.2"/>
<circle cx="636.0" cy="311.4" r="3.2"/>
<circle cx="636.0" cy="311.4" r="3.2"/>
<circle cx="636.1" cy="311.5" r="3.2"/>
<circle cx="636.2" cy="311.5" r="3.2"/>
<circle cx="636.3" cy="311.6" r="3.2"/>
<circle cx="636.4" cy="311.6" r="3.2"/>
<circle cx="636.5" cy="311.7" r="3.2"/>
<circle cx="636.6" cy="311.7" r="3.2"/>
<circle cx="636.6" cy="311.8" r="3.2"/>
<circle cx="636.7" cy="311.8" r="3.2"/>
<circle cx="636.8" cy="311.9" r="3.2"/>
<circle cx="636.9" cy="311.9" r="3.2"/>
<circle cx="637.0" cy="312.0" r="3.2"/>
<circle cx="637.1" cy="312.0" r="3.2"/>
<circle cx="637.2" cy="312.1" r="3.2"/>
<circle cx="637.2" cy="312.1" r="3.2"/>
<circle cx="637.3" cy="312.2" r="3.2"/>
<circle cx="637.4" cy="312.2" r="3.2"/>
<circle cx="637.5" cy="312.3" r="3.2"/>
<circle cx="637.6" cy="312.3" r="3.2"/>
<circle cx="637.7" cy="312.4" r="3.2"/>
<circle cx="637.7" cy="312.4" r="3.2"/>
<circle cx="637.8" cy="312.5" r="3.2"/>
<circle cx="637.9" cy="312.5" r="3.2"/>
<circle cx="638.0" cy="312.6" r="3.2"/>
<circle cx="638.1" cy="312.6" r="3.2"/>
<circle cx="638.2" cy="312.7" r="3.2"/>
<circle cx="638.2" cy="312.7" r="3.2"/>
<circle cx="638.3" cy="312.8" r="3.2"/>
<circle cx="638.4" cy="312.8" r="3.2"/>
<circle cx="638.5" cy="312.9" r="3.2"/>
<circle cx="638.6" cy="312.9" r="3.2"/>
<circle cx="638.7" cy="313.0" r="3.2"/>
<circle cx="638.7" cy="313.0" r="3.2"/>
<circle cx="638.8" cy="313.1" r="3.2"/>
<circle cx="638.9" cy="313.1" r="3.2"/>
<circle cx="639.0" cy="313.2" r="3.2"/>
<circle cx="639.1" cy="313.2" r="3.2"/>
<circle cx="639.2" cy="313.3" r="3.2"/>
<circle cx="639.2" cy="313.3" r="3.2"/>
<circle cx="639.3" cy="313.4" r="3.2"/>
<circle cx="639.4" cy="313.4" r="3.2"/>
<circle cx="639.5" cy="313.5" r="3.2"/>
<circle cx="639.6" cy="313.5" r="3.2"/>
<circle cx="639.6" cy="313.6" r="3.2"/>
<circle cx="639.7" cy="313.6" r="3.2"/>
<circle cx="639.8" cy="313.7" r="3.2"/>
<circle cx="639.9" cy="313.7" r="3.2"/>
<circle cx="640.0" cy="313.8" r="3.2"/>
<circle cx="640.0" cy="313.8" r="3.2"/>
<circle cx="640.1" cy="313.9" r="3.2"/>
<circle cx="640.2" cy="313.9" r="3.2"/>
<circle cx="640.3" cy="314.0" r="3.2"/>
<circle cx="640.4" cy="314.0" r="3.2"/>
<circle cx="640.5" cy="314.1" r="3.2"/>
<circle cx="640.5" cy="314.1" r="3.2"/>
<circle cx="640.6" cy="314.1" r="3.2"/>
<circle cx="640.7" cy="314.2" r="3.2"/>
<circle cx="640.8" cy="314.2" r="3.2"/>
<circle cx="640.9" cy="314.3" r="3.2"/>
<circle cx="640.9" cy="314.3" r="3.2"/>
<circle cx="641.0" cy="314.4" r="3.2"/>
<circle cx="641.1" cy="314.4" r="3.2"/>
<circle cx="641.2" cy="314.5" r="3.2"/>
<circle cx="641.3" cy="314.5" r="3.2"/>
<circle cx="641.3" cy="314.6" r="3.2"/>
<circle cx="641.4" cy="314.6" r="3.2"/>
<circle cx="641.5" cy="314.7" r="3.2"/>
<circle cx="641.6" cy="314.7" r="3.2"/>
<circle cx="641.7" cy="314.8" r="3.2"/>
<circle cx="641.7" cy="314.8" r="3.2"/>
<circle cx="641.8" cy="314.9" r="3.2"/>
<circle cx="641.9" cy="314.9" r="3.2"/>
<circle cx="642.0" cy="315.0" r="3.2"/>
<circle cx="642.0" cy="315.0" r="3.2"/>
<circle cx="642.1" cy="315.0" r="3.2"/>
<circle cx="642.2" cy="315.1" r="3.2"/>
<circle cx="642.3" cy="315.1" r="3.2"/>
<circle cx="642.4" cy="315.2" r="3.2"/>
<circle cx="642.4" cy="315.2" r="3.2"/>
<circle cx="642.5" cy="315.3" r="3.2"/>
<circle cx="642.6" cy="315.3" r="3.2"/>
<circle cx="642.7" cy="315.4" r="3.2"/>
<circle cx="642.8" cy="315.4" r="3.2"/>
<circle cx="642.8" cy="315.5" r="3.2"/>
<circle cx="642.9" cy="315.5" r="3.2"/>
<circle cx="643.0" cy="315.6" r="3.2"/>
<circle cx="643.1" cy="315.6" r="3.2"/>
<circle cx="643.1" cy="315.6" r="3.2"/>
<circle cx="643.2" cy="315.7" r="3.2"/>
<circle cx="643.3" cy="315.7" r="3.2"/>
<circle cx="643.4" cy="315.8" r="3.2"/>
<circle cx="643.5" cy="315.8" r="3.2"/>
<circle cx="643.5" cy="315.9" r="3.2"/>
<circle cx="643.6" cy="315.9" r="3.2"/>
<circle cx="643.7" cy="316.0" r="3.2"/>
<circle cx="643.8" cy="316.0" r="3.2"/>
<circle cx="643.8" cy="316.1" r="3.2"/>
<circle cx="643.9" cy="316.1" r="3.2"/>
<circle cx="644.0" cy="316.2" r="3.2"/>
<circle cx="644.1" cy="316.2" r="3.2"/>
<circle cx="644.1" cy="316.2" r="3.2"/>
<circle cx="644.2" cy="316.3" r="3.2"/>
<circle cx="644.3" cy="316.3" r="3.2"/>
<circle cx="644.4" cy="316.4" r="3.2"/>
<circle cx="644.4" cy="316.4" r="3.2"/>
<circle cx="644.5" cy="316.5" r="3.2"/>
<circle cx="644.6" cy="316.5" r="3.2"/>
<circle cx="644.7" cy="316.6" r="3.2"/>
<circle cx="644.8" cy="316.6" r="3.2"/>
<circle cx="644.8" cy="316.6" r="3.2"/>
<circle cx="644.9" cy="316.7" r="3.2"/>
<circle cx="645.0" cy="316.7" r="3.2"/>
<circle cx="645.1" cy="316.8" r="3.2"/>
<circle cx="645.1" cy="316.8" r="3.2"/>
<circle cx="645.2" cy="316.9" r="3.2"/>
<circle cx="645.3" cy="316.9" r="3.2"/>
<circle cx="645.4" cy="317.0" r="3.2"/>
<circle cx="645.4" cy="317.0" r="3.2"/>
<circle cx="645.5" cy="317.1" r="3.2"/>
<circle cx="645.6" cy="317.1" r="3.2"/>
<circle cx="645.7" cy="317.1" r="3.2"/>
<circle cx="645.7" cy="317.2" r="3.2"/>
<circle cx="645.8" cy="317.2" r="3.2"/>
<circle cx="645.9" cy="317.3" r="3.2"/>
<circle cx="646.0" cy="317.3" r="3.2"/>
<circle cx="646.0" cy="317.4" r="3.2"/>
<circle cx="646.1" cy="317.4" r="3.2"/>
<circle cx="646.2" cy="317.5" r="3.2"/>
<circle cx="646.3" cy="317.5" r="3.2"/>
<circle cx="646.3" cy="317.5" r="3.2"/>
<circle cx="646.4" cy="317.6" r="3.2"/>
<circle cx="646.5" cy="317.6" r="3.2"/>
<circle cx="646.6" cy="317.7" r="3.2"/>
<circle cx="646.6" cy="317.7" r="3.2"/>
<circle cx="646.7" cy="317.8" r="3.2"/>
<circle cx="646.8" cy="317.8" r="3.2"/>
<circle cx="646.8" cy="317.8" r="3.2"/>
<circle cx="646.9" cy="317.9" r="3.2"/>
<circle cx="647.0" cy="317.9" r="3.2"/>
<circle cx="647.1" cy="318.0" r="3.2"/>
<circle cx="647.1" cy="318.0" r="3.2"/>
<circle cx="647.2" cy="318.1" r="3.2"/>
<circle cx="647.3" cy="318.1" r="3.2"/>
<circle cx="647.4" cy="318.2" r="3.2"/>
<circle cx="647.4" cy="318.2" r="3.2"/>
<circle cx="647.5" cy="318.2" r="3.2"/>
<circle cx="647.6" cy="318.3" r="3.2"/>
<circle cx="647.7" cy="318.3" r="3.2"/>
<circle cx="647.7" cy="318.4" r="3.2"/>
<circle cx="647.8" cy="318.4" r="3.2"/>
<circle cx="647.9" cy="318.5" r="3.2"/>
<circle cx="647.9" cy="318.5" r="3.2"/>
<circle cx="648.0" cy="318.5" r="3.2"/>
<circle cx="648.1" cy="318.6" r="3.2"/>
<circle cx="648.2" cy="318.6" r="3.2"/>
<circle cx="648.2" cy="318.7" r="3.2"/>
<circle cx="648.3" cy="318.7" r="3.2"/>
<circle cx="648.4" cy="318.8" r="3.2"/>
<circle cx="648.4" cy="318.8" r="3.2"/>
<circle cx="648.5" cy="318.8" r="3.2"/>
<circle cx="648.6" cy="318.9" r="3.2"/>
<circle cx="648.7" cy="318.9" r="3.2"/>
<circle cx="648.7" cy="319.0" r="3.2"/>
<circle cx="648.8" cy="319.0" r="3.2"/>
<circle cx="648.9" cy="319.1" r="3.2"/>
<circle cx="649.0" cy="319.1" r="3.2"/>
<circle cx="649.0" cy="319.1" r="3.2"/>
<circle cx="649.1" cy="319.2" r="3.2"/>
<circle cx="649.2" cy="319.2" r="3.2"/>
<circle cx="649.2" cy="319.3" r="3.2"/>
<circle cx="649.3" cy="319.3" r="3.2"/>
<circle cx="649.4" cy="319.3" r="3.2"/>
<circle cx="649.4" cy="319.4" r="3.2"/>
<circle cx="649.5" cy="319.4" r="3.2"/>
<circle cx="649.6" cy="319.5" r="3.2"/>
<circle cx="649.7" cy="319.5" r="3.2"/>
<circle cx="649.7" cy="319.6" r="3.2"/>
<circle cx="649.8" cy="319.6" r="3.2"/>
<circle cx="649.9" cy="319.6" r="3.2"/>
<circle cx="649.9" cy="319.7" r="3.2"/>
<circle cx="650.0" cy="319.7" r="3.2"/>
<circle cx="650.1" cy="319.8" r="3.2"/>
<circle cx="650.2" cy="319.8" r="3.2"/>
<circle cx="650.2" cy="319.9" r="3.2"/>
<circle cx="650.3" cy="319.9" r="3.2"/>
<circle cx="650.4" cy="319.9" r="3.2"/>
<circle cx="650.4" cy="320.0" r="3.2"/>
<circle cx="650.5" cy="320.0" r="3.2"/>
<circle cx="650.6" cy="320.1" r="3.2"/>
<circle cx="650.6" cy="320.1" r="3.2"/>
<circle cx="650.7" cy="320.1" r="3.2"/>
<circle cx="650.8" cy="320.2" r="3.2"/>
<circle cx="650.9" cy="320.2" r="3.2"/>
<circle cx="650.9" cy="320.3" r="3.2"/>
<circle cx="651.0" cy="320.3" r="3.2"/>
<circle cx="651.1" cy="320.3" r="3.2"/>
<circle cx="651.1" cy="320.4" r="3.2"/>
<circle cx="651.2" cy="320.4" r="3.2"/>
<circle cx="651.3" cy="320.5" r="3.2"/>
<circle cx="651.3" cy="320.5" r="3.2"/>
<circle cx="651.4" cy="320.6" r="3.2"/>
<circle cx="651.5" cy="320.6" r="3.2"/>
<circle cx="651.5" cy="320.6" r="3.2"/>
<circle cx="651.6" cy="320.7" r="3.2"/>
<circle cx="651.7" cy="320.7" r="3.2"/>
<circle cx="651.8" cy="320.8" r="3.2"/>
<circle cx="651.8" cy="320.8" r="3.2"/>
<circle cx="651.9" cy="320.8" r="3.2"/>
<circle cx="652.0" cy="320.9" r="3.2"/>
<circle cx="652.0" cy="320.9" r="3.2"/>
<circle cx="652.1" cy="321.0" r="3.2"/>
<circle cx="652.2" cy="321.0" r="3.2"/>
<circle cx="652.2" cy="321.0" r="3.2"/>
<circle cx="652.3" cy="321.1" r="3.2"/>
<circle cx="652.4" cy="321.1" r="3.2"/>
<circle cx="652.4" cy="321.2" r="3.2"/>
<circle cx="652.5" cy="321.2" r="3.2"/>
<circle cx="652.6" cy="321.2" r="3.2"/>
<circle cx="652.6" cy="321.3" r="3.2"/>
<circle cx="652.7" cy="321.3" r="3.2"/>
<circle cx="652.8" cy="321.4" r="3.2"/>
<circle cx="652.8" cy="321.4" r="3.2"/>
<circle cx="652.9" cy="321.4" r="3.2"/>
<circle cx="653.0" cy="321.5" r="3.2"/>
<circle cx="653.1" cy="321.5" r="3.2"/>
<circle cx="653.1" cy="321.6" r="3.2"/>
<circle cx="653.2" cy="321.6" r="3.2"/>
<circle cx="653.3" cy="321.6" r="3.2"/>
<circle cx="653.3" cy="321.7" r="3.2"/>
<circle cx="653.4" cy="321.7" r="3.2"/>
<circle cx="653.5" cy="321.8" r="3.2"/>
<circle cx="653.5" cy="321.8" r="3.2"/>
<circle cx="653.6" cy="321.8" r="3.2"/>
<circle cx="653.7" cy="321.9" r="3.2"/>
<circle cx="653.7" cy="321.9" r="3.2"/>
<circle cx="653.8" cy="322.0" r="3.2"/>
<circle cx="653.9" cy="322.0" r="3.2"/>
<circle cx="653.9" cy="322.0" r="3.2"/>
<circle cx="654.0" cy="322.1" r="3.2"/>
<circle cx="654.1" cy="322.1" r="3.2"/>
<circle cx="654.1" cy="322.2" r="3.2"/>
<circle cx="654.2" cy="322.2" r="3.2"/>
<circle cx="654.3" cy="322.2" r="3.2"/>
<circle cx="654.3" cy="322.3" r="3.2"/>
<circle cx="654.4" cy="322.3" r="3.2"/>
<circle cx="654.5" cy="322.4" r="3.2"/>
<circle cx="654.5" cy="322.4" r="3.2"/>
<circle cx="654.6" cy="322.4" r="3.2"/>
<circle cx="654.7" cy="322.5" r="3.2"/>
<circle cx="654.7" cy="322.5" r="3.2"/>
<circle cx="654.8" cy="322.6" r="3.2"/>
<circle cx="654.9" cy="322.6" r="3.2"/>
<circle cx="654.9" cy="322.6" r="3.2"/>
<circle cx="655.0" cy="322.7" r="3.2"/>
<circle cx="655.0" cy="322.7" r="3.2"/>
<circle cx="655.1" cy="322.8" r="3.2"/>
<circle cx="655.2" cy="322.8" r="3.2"/>
<circle cx="655.2" cy="322.8" r="3.2"/>
<circle cx="655.3" cy="322.9" r="3.2"/>
<circle cx="655.4" cy="322.9" r="3.2"/>
<circle cx="655.4" cy="322.9" r="3.2"/>
<circle cx="655.5" cy="323.0" r="3.2"/>
<circle cx="655.6" cy="323.0" r="3.2"/>
<circle cx="655.6" cy="323.1" r="3.2"/>
<circle cx="655.7" cy="323.1" r="3.2"/>
<circle cx="655.8" cy="323.1" r="3.2"/>
<circle cx="655.8" cy="323.2" r="3.2"/>
<circle cx="655.9" cy="323.2" r="3.2"/>
<circle cx="656.0" cy="323.3" r="3.2"/>
<circle cx="656.0" cy="323.3" r="3.2"/>
<circle cx="656.1" cy="323.3" r="3.2"/>
<circle cx="656.2" cy="323.4" r="3.2"/>
<circle cx="656.2" cy="323.4" r="3.2"/>
<circle cx="656.3" cy="323.4" r="3.2"/>
<circle cx="656.3" cy="323.5" r="3.2"/>
<circle cx="656.4" cy="323.5" r="3.2"/>
<circle cx="656.5" cy="323.6" r="3.2"/>
<circle cx="656.5" cy="323.6" r="3.2"/>
<circle cx="656.6" cy="323.6" r="3.2"/>
<circle cx="656.7" cy="323.7" r="3.2"/>
<circle cx="656.7" cy="323.7" r="3.2"/>
<circle cx="656.8" cy="323.7" r="3.2"/>
<circle cx="656.9" cy="323.8" r="3.2"/>
<circle cx="656.9" cy="323.8" r="3.2"/>
<circle cx="657.0" cy="323.9" r="3.2"/>
<circle cx="657.1" cy="323.9" r="3.2"/>
<circle cx="657.1" cy="323.9" r="3.2"/>
<circle cx="657.2" cy="324.0" r="3.2"/>
<circle cx="657.2" cy="324.0" r="3.2"/>
<circle cx="657.3" cy="324.1" r="3.2"/>
<circle cx="657.4" cy="324.1" r="3.2"/>
<circle cx="657.4" cy="324.1" r="3.2"/>
<circle cx="657.5" cy="324.2" r="3.2"/>
<circle cx="657.6" cy="324.2" r="3.2"/>
<circle cx="657.6" cy="324.2" r="3.2"/>
<circle cx="657.7" cy="324.3" r="3.2"/>
<circle cx="657.8" cy="324.3" r="3.2"/>
<circle cx="657.8" cy="324.4" r="3.2"/>
<circle cx="657.9" cy="324.4" r="3.2"/>
<circle cx="657.9" cy="324.4" r="3.2"/>
<circle cx="658.0" cy="324.5" r="3.2"/>
<circle cx="658.1" cy="324.5" r="3.2"/>
<circle cx="658.1" cy="324.5" r="3.2"/>
<circle cx="658.2" cy="324.6" r="3.2"/>
<circle cx="658.3" cy="324.6" r="3.2"/>
<circle cx="658.3" cy="324.7" r="3.2"/>
<circle cx="658.4" cy="324.7" r="3.2"/>
<circle cx="658.4" cy="324.7" r="3.2"/>
<circle cx="658.5" cy="324.8" r="3.2"/>
<circle cx="658.6" cy="324.8" r="3.2"/>
<circle cx="658.6" cy="324.8" r="3.2"/>
<circle cx="658.7" cy="324.9" r="3.2"/>
<circle cx="658.8" cy="324.9" r="3.2"/>
<circle cx="658.8" cy="324.9" r="3.2"/>
<circle cx="658.9" cy="325.0" r="3.2"/>
<circle cx="658.9" cy="325.0" r="3.2"/>
<circle cx="659.0" cy="325.1" r="3.2"/>
<circle cx="659.1" cy="325.1" r="3.2"/>
<circle cx="659.1" cy="325.1" r="3.2"/>
<circle cx="659.2" cy="325.2" r="3.2"/>
<circle cx="659.3" cy="325.2" r="3.2"/>
<circle cx="659.3" cy="325.2" r="3.2"/>
<circle cx="659.4" cy="325.3" r="3.2"/>
<circle cx="659.4" cy="325.3" r="3.2"/>
<circle cx="659.5" cy="325.4" r="3.2"/>
<circle cx="659.6" cy="325.4" r="3.2"/>
<circle cx="659.6" cy="325.4" r="3.2"/>
<circle cx="659.7" cy="325.5" r="3.2"/>
<circle cx="659.7" cy="325.5" r="3.2"/>
<circle cx="659.8" cy="325.5" r="3.2"/>
<circle cx="659.9" cy="325.6" r="3.2"/>
<circle cx="659.9" cy="325.6" r="3.2"/>
<circle cx="660.0" cy="325.6" r="3.2"/>
<circle cx="660.1" cy="325.7" r="3.2"/>
<circle cx="660.1" cy="325.7" r="3.2"/>
<circle cx="660.2" cy="325.8" r="3.2"/>
<circle cx="660.2" cy="325.8" r="3.2"/>
<circle cx="660.3" cy="325.8" r="3.2"/>
<circle cx="660.4" cy="325.9" r="3.2"/>
<circle cx="660.4" cy="325.9" r="3.2"/>
<circle cx="660.5" cy="325.9" r="3.2"/>
<circle cx="660.5" cy="326.0" r="3.2"/>
<circle cx="660.6" cy="326.0" r="3.2"/>
<circle cx="660.7" cy="326.0" r="3.2"/>
<circle cx="660.7" cy="326.1" r="3.2"/>
<circle cx="660.8" cy="326.1" r="3.2"/>
<circle cx="660.8" cy="326.1" r="3.2"/>
<circle cx="660.9" cy="326.2" r="3.2"/>
<circle cx="661.0" cy="326.2" r="3.2"/>
<circle cx="661.0" cy="326.3" r="3.2"/>
<circle cx="661.1" cy="326.3" r="3.2"/>
<circle cx="661.1" cy="326.3" r="3.2"/>
<circle cx="661.2" cy="326.4" r="3.2"/>
<circle cx="661.3" cy="326.4" r="3.2"/>
<circle cx="661.3" cy="326.4" r="3.2"/>
<circle cx="661.4" cy="326.5" r="3.2"/>
<circle cx="661.4" cy="326.5" r="3.2"/>
<circle cx="661.5" cy="326.5" r="3.2"/>
<circle cx="661.6" cy="326.6" r="3.2"/>
<circle cx="661.6" cy="326.6" r="3.2"/>
<circle cx="661.7" cy="326.6" r="3.2"/>
<circle cx="661.7" cy="326.7" r="3.2"/>
<circle cx="661.8" cy="326.7" r="3.2"/>
<circle cx="661.9" cy="326.8" r="3.2"/>
<circle cx="661.9" cy="326.8" r="3.2"/>
<circle cx="662.0" cy="326.8" r="3.2"/>
<circle cx="662.0" cy="326.9" r="3.2"/>
<circle cx="662.1" cy="326.9" r="3.2"/>
<circle cx="662.2" cy="326.9" r="3.2"/>
<circle cx="662.2" cy="327.0" r="3.2"/>
<circle cx="662.3" cy="327.0" r="3.2"/>
<circle cx="662.3" cy="327.0" r="3.2"/>
<circle cx="662.4" cy="327.1" r="3.2"/>
<circle cx="662.5" cy="327.1" r="3.2"/>
<circle cx="662.5" cy="327.1" r="3.2"/>
<circle cx="662.6" cy="327.2" r="3.2"/>
<circle cx="662.6" cy="327.2" r="3.2"/>
<circle cx="662.7" cy="327.2" r="3.2"/>
<circle cx="662.8" cy="327.3" r="3.2"/>
<circle cx="662.8" cy="327.3" r="3.2"/>
<circle cx="662.9" cy="327.4" r="3.2"/>
<circle cx="662.9" cy="327.4" r="3.2"/>
<circle cx="663.0" cy="327.4" r="3.2"/>
<circle cx="663.0" cy="327.5" r="3.2"/>
<circle cx="663.1" cy="327.5" r="3.2"/>
<circle cx="663.2" cy="327.5" r="3.2"/>
<circle cx="663.2" cy="327.6" r="3.2"/>
<circle cx="663.3" cy="327.6" r="3.2"/>
<circle cx="663.3" cy="327.6" r="3.2"/>
<circle cx="663.4" cy="327.7" r="3.2"/>
<circle cx="663.5" cy="327.7" r="3.2"/>
<circle cx="663.5" cy="327.7" r="3.2"/>
<circle cx="663.6" cy="327.8" r="3.2"/>
<circle cx="663.6" cy="327.8" r="3.2"/>
<circle cx="663.7" cy="327.8" r="3.2"/>
<circle cx="663.7" cy="327.9" r="3.2"/>
<circle cx="663.8" cy="327.9" r="3.2"/>
<circle cx="663.9" cy="327.9" r="3.2"/>
<circle cx="663.9" cy="328.0" r="3.2"/>
<circle cx="664.0" cy="328.0" r="3.2"/>
<circle cx="664.0" cy="328.0" r="3.2"/>
<circle cx="664.1" cy="328.1" r="3.2"/>
<circle cx="664.2" cy="328.1" r="3.2"/>
<circle cx="664.2" cy="328.1" r="3.2"/>
<circle cx="664.3" cy="328.2" r="3.2"/>
<circle cx="664.3" cy="328.2" r="3.2"/>
<circle cx="664.4" cy="328.2" r="3.2"/>
<circle cx="664.4" cy="328.3" r="3.2"/>
<circle cx="664.5" cy="328.3" r="3.2"/>
<circle cx="664.6" cy="328.4" r="3.2"/>
<circle cx="664.6" cy="328.4" r="3.2"/>
<circle cx="664.7" cy="328.4" r="3.2"/>
<circle cx="664.7" cy="328.5" r="3.2"/>
<circle cx="664.8" cy="328.5" r="3.2"/>
<circle cx="664.8" cy="328.5" r="3.2"/>
<circle cx="664.9" cy="328.6" r="3.2"/>
<circle cx="665.0" cy="328.6" r="3.2"/>
<circle cx="665.0" cy="328.6" r="3.2"/>
<circle cx="665.1" cy="328.7" r="3.2"/>
<circle cx="665.1" cy="328.7" r="3.2"/>
<circle cx="665.2" cy="328.7" r="3.2"/>
<circle cx="665.2" cy="328.8" r="3.2"/>
<circle cx="665.3" cy="328.8" r="3.2"/>
<circle cx="665.4" cy="328.8" r="3.2"/>
<circle cx="665.4" cy="328.9" r="3.2"/>
<circle cx="665.5" cy="328.9" r="3.2"/>
<circle cx="665.5" cy="328.9" r="3.2"/>
<circle cx="665.6" cy="329.0" r="3.2"/>
<circle cx="665.6" cy="329.0" r="3.2"/>
<circle cx="665.7" cy="329.0" r="3.2"/>
<circle cx="665.8" cy="329.1" r="3.2"/>
<circle cx="665.8" cy="329.1" r="3.2"/>
<circle cx="665.9" cy="329.1" r="3.2"/>
<circle cx="665.9" cy="329.2" r="3.2"/>
<circle cx="666.0" cy="329.2" r="3.2"/>
<circle cx="666.0" cy="329.2" r="3.2"/>
<circle cx="666.1" cy="329.3" r="3.2"/>
<circle cx="666.1" cy="329.3" r="3.2"/>
<circle cx="666.2" cy="329.3" r="3.2"/>
<circle cx="666.3" cy="329.4" r="3.2"/>
<circle cx="666.3" cy="329.4" r="3.2"/>
<circle cx="666.4" cy="329.4" r="3.2"/>
<circle cx="666.4" cy="329.5" r="3.2"/>
<circle cx="666.5" cy="329.5" r="3.2"/>
<circle cx="666.5" cy="329.5" r="3.2"/>
<circle cx="666.6" cy="329.6" r="3.2"/>
<circle cx="666.7" cy="329.6" r="3.2"/>
<circle cx="666.7" cy="329.6" r="3.2"/>
<circle cx="666.8" cy="329.7" r="3.2"/>
<circle cx="666.8" cy="329.7" r="3.2"/>
<circle cx="666.9" cy="329.7" r="3.2"/>
<circle cx="666.9" cy="329.8" r="3.2"/>
<circle cx="667.0" cy="329.8" r="3.2"/>
<circle cx="667.0" cy="329.8" r="3.2"/>
<circle cx="667.1" cy="329.9" r="3.2"/>
<circle cx="667.2" cy="329.9" r="3.2"/>
<circle cx="667.2" cy="329.9" r="3.2"/>
<circle cx="667.3" cy="330.0" r="3.2"/>
<circle cx="667.3" cy="330.0" r="3.2"/>
<circle cx="667.4" cy="330.0" r="3.2"/>
<circle cx="667.4" cy="330.1" r="3.2"/>
<circle cx="667.5" cy="330.1" r="3.2"/>
<circle cx="667.5" cy="330.1" r="3.2"/>
<circle cx="667.6" cy="330.2" r="3.2"/>
<circle cx="667.6" cy="330.2" r="3.2"/>
<circle cx="667.7" cy="330.2" r="3.2"/>
<circle cx="667.8" cy="330.3" r="3.2"/>
<circle cx="667.8" cy="330.3" r="3.2"/>
<circle cx="667.9" cy="330.3" r="3.2"/>
<circle cx="667.9" cy="330.3" r="3.2"/>
<circle cx="668.0" cy="330.4" r="3.2"/>
<circle cx="668.0" cy="330.4" r="3.2"/>
<circle cx="668.1" cy="330.4" r="3.2"/>
<circle cx="668.1" cy="330.5" r="3.2"/>
<circle cx="668.2" cy="330.5" r="3.2"/>
<circle cx="668.2" cy="330.5" r="3.2"/>
<circle cx="668.3" cy="330.6" r="3.2"/>
<circle cx="668.4" cy="330.6" r="3.2"/>
<circle cx="668.4" cy="330.6" r="3.2"/>
<circle cx="668.5" cy="330.7" r="3.2"/>
<circle cx="668.5" cy="330.7" r="3.2"/>
<circle cx="668.6" cy="330.7" r="3.2"/>
<circle cx="668.6" cy="330.8" r="3.2"/>
<circle cx="668.7" cy="330.8" r="3.2"/>
<circle cx="668.7" cy="330.8" r="3.2"/>
<circle cx="668.8" cy="330.9" r="3.2"/>
<circle cx="668.8" cy="330.9" r="3.2"/>
<circle cx="668.9" cy="330.9" r="3.2"/>
<circle cx="669.0" cy="331.0" r="3.2"/>
<circle cx="669.0" cy="331.0" r="3.2"/>
<circle cx="669.1" cy="331.0" r="3.2"/>
<circle cx="669.1" cy="331.1" r="3.2"/>
<circle cx="669.2" cy="331.1" r="3.2"/>
<circle cx="669.2" cy="331.1" r="3.2"/>
<circle cx="669.3" cy="331.2" r="3.2"/>
<circle cx="669.3" cy="331.2" r="3.2"/>
<circle cx="669.4" cy="331.2" r="3.2"/>
<circle cx="669.4" cy="331.2" r="3.2"/>
<circle cx="669.5" cy="331.3" r="3.2"/>
<circle cx="669.5" cy="331.3" r="3.2"/>
<circle cx="669.6" cy="331.3" r="3.2"/>
<circle cx="669.7" cy="331.4" r="3.2"/>
<circle cx="669.7" cy="331.4" r="3.2"/>
<circle cx="669.8" cy="331.4" r="3.2"/>
<circle cx="669.8" cy="331.5" r="3.2"/>
<circle cx="669.9" cy="331.5" r="3.2"/>
<circle cx="669.9" cy="331.5" r="3.2"/>
<circle cx="670.0" cy="331.6" r="3.2"/>
<circle cx="670.0" cy="331.6" r="3.2"/>
<circle cx="670.1" cy="331.6" r="3.2"/>
<circle cx="670.1" cy="331.7" r="3.2"/>
<circle cx="670.2" cy="331.7" r="3.2"/>
<circle cx="670.2" cy="331.7" r="3.2"/>
<circle cx="670.3" cy="331.8" r="3.2"/>
<circle cx="670.3" cy="331.8" r="3.2"/>
<circle cx="670.4" cy="331.8" r="3.2"/>
<circle cx="670.5" cy="331.8" r="3.2"/>
<circle cx="670.5" cy="331.9" r="3.2"/>
<circle cx="670.6" cy="331.9" r="3.2"/>
<circle cx="670.6" cy="331.9" r="3.2"/>
<circle cx="670.7" cy="332.0" r="3.2"/>
<circle cx="670.7" cy="332.0" r="3.2"/>
<circle cx="670.8" cy="332.0" r="3.2"/>
<circle cx="670.8" cy="332.1" r="3.2"/>
<circle cx="670.9" cy="332.1" r="3.2"/>
<circle cx="670.9" cy="332.1" r="3.2"/>
<circle cx="671.0" cy="332.2" r="3.2"/>
<circle cx="671.0" cy="332.2" r="3.2"/>
<circle cx="671.1" cy="332.2" r="3.2"/>
<circle cx="671.1" cy="332.3" r="3.2"/>
<circle cx="671.2" cy="332.3" r="3.2"/>
<circle cx="671.2" cy="332.3" r="3.2"/>
<circle cx="671.3" cy="332.3" r="3.2"/>
<circle cx="671.3" cy="332.4" r="3.2"/>
<circle cx="671.4" cy="332.4" r="3.2"/>
<circle cx="671.4" cy="332.4" r="3.2"/>
<circle cx="671.5" cy="332.5" r="3.2"/>
<circle cx="671.6" cy="332.5" r="3.2"/>
<circle cx="671.6" cy="332.5" r="3.2"/>
<circle cx="671.7" cy="332.6" r="3.2"/>
<circle cx="671.7" cy="332.6" r="3.2"/>
<circle cx="671.8" cy="332.6" r="3.2"/>
<circle cx="671.8" cy="332.7" r="3.2"/>
<circle cx="671.9" cy="332.7" r="3.2"/>
<circle cx="671.9" cy="332.7" r="3.2"/>
<circle cx="672.0" cy="332.7" r="3.2"/>
<circle cx="672.0" cy="332.8" r="3.2"/>
<circle cx="672.1" cy="332.8" r="3.2"/>
<circle cx="672.1" cy="332.8" r="3.2"/>
<circle cx="672.2" cy="332.9" r="3.2"/>
<circle cx="672.2" cy="332.9" r="3.2"/>
<circle cx="672.3" cy="332.9" r="3.2"/>
<circle cx="672.3" cy="333.0" r="3.2"/>
<circle cx="672.4" cy="333.0" r="3.2"/>
<circle cx="672.4" cy="333.0" r="3.2"/>
<circle cx="672.5" cy="333.1" r="3.2"/>
<circle cx="672.5" cy="333.1" r="3.2"/>
<circle cx="672.6" cy="333.1" r="3.2"/>
<circle cx="672.6" cy="333.1" r="3.2"/>
<circle cx="672.7" cy="333.2" r="3.2"/>
<circle cx="672.7" cy="333.2" r="3.2"/>
<circle cx="672.8" cy="333.2" r="3.2"/>
<circle cx="672.8" cy="333.3" r="3.2"/>
<circle cx="672.9" cy="333.3" r="3.2"/>
<circle cx="672.9" cy="333.3" r="3.2"/>
<circle cx="673.0" cy="333.4" r="3.2"/>
<circle cx="673.0" cy="333.4" r="3.2"/>
<circle cx="673.1" cy="333.4" r="3.2"/>
<circle cx="673.1" cy="333.4" r="3.2"/>
<circle cx="673.2" cy="333.5" r="3.2"/>
<circle cx="673.2" cy="333.5" r="3.2"/>
<circle cx="673.3" cy="333.5" r="3.2"/>
<circle cx="673.4" cy="333.6" r="3.2"/>
<circle cx="673.4" cy="333.6" r="3.2"/>
<circle cx="673.5" cy="333.6" r="3.2"/>
<circle cx="673.5" cy="333.7" r="3.2"/>
<circle cx="673.6" cy="333.7" r="3.2"/>
<circle cx="673.6" cy="333.7" r="3.2"/>
<circle cx="673.7" cy="333.7" r="3.2"/>
<circle cx="673.7" cy="333.8" r="3.2"/>
<circle cx="673.8" cy="333.8" r="3.2"/>
<circle cx="673.8" cy="333.8" r="3.2"/>
<circle cx="673.9" cy="333.9" r="3.2"/>
<circle cx="673.9" cy="333.9" r="3.2"/>
<circle cx="674.0" cy="333.9" r="3.2"/>
<circle cx="674.0" cy="334.0" r="3.2"/>
<circle cx="674.1" cy="334.0" r="3.2"/>
<circle cx="674.1" cy="334.0" r="3.2"/>
<circle cx="674.2" cy="334.0" r="3.2"/>
<circle cx="674.2" cy="334.1" r="3.2"/>
<circle cx="674.3" cy="334.1" r="3.2"/>
<circle cx="674.3" cy="334.1" r="3.2"/>
<circle cx="674.4" cy="334.2" r="3.2"/>
<circle cx="674.4" cy="334.2" r="3.2"/>
<circle cx="674.5" cy="334.2" r="3.2"/>
<circle cx="674.5" cy="334.3" r="3.2"/>
<circle cx="674.6" cy="334.3" r="3.2"/>
<circle cx="674.6" cy="334.3" r="3.2"/>
<circle cx="674.7" cy="334.3" r="3.2"/>
<circle cx="674.7" cy="334.4" r="3.2"/>
<circle cx="674.8" cy="334.4" r="3.2"/>
<circle cx="674.8" cy="334.4" r="3.2"/>
<circle cx="674.9" cy="334.5" r="3.2"/>
<circle cx="674.9" cy="334.5" r="3.2"/>
<circle cx="675.0" cy="334.5" r="3.2"/>
<circle cx="675.0" cy="334.5" r="3.2"/>
<circle cx="675.1" cy="334.6" r="3.2"/>
<circle cx="675.1" cy="334.6" r="3.2"/>
<circle cx="675.2" cy="334.6" r="3.2"/>
<circle cx="675.2" cy="334.7" r="3.2"/>
<circle cx="675.3" cy="334.7" r="3.2"/>
<circle cx="675.3" cy="334.7" r="3.2"/>
<circle cx="675.4" cy="334.8" r="3.2"/>
<circle cx="675.4" cy="334.8" r="3.2"/>
<circle cx="675.5" cy="334.8" r="3.2"/>
<circle cx="675.5" cy="334.8" r="3.2"/>
<circle cx="675.5" cy="334.9" r="3.2"/>
<circle cx="675.6" cy="334.9" r="3.2"/>
<circle cx="675.6" cy="334.9" r="3.2"/>
<circle cx="675.7" cy="335.0" r="3.2"/>
<circle cx="675.7" cy="335.0" r="3.2"/>
<circle cx="675.8" cy="335.0" r="3.2"/>
<circle cx="675.8" cy="335.0" r="3.2"/>
<circle cx="675.9" cy="335.1" r="3.2"/>
<circle cx="675.9" cy="335.1" r="3.2"/>
<circle cx="676.0" cy="335.1" r="3.2"/>
<circle cx="676.0" cy="335.2" r="3.2"/>
<circle cx="676.1" cy="335.2" r="3.2"/>
<circle cx="676.1" cy="335.2" r="3.2"/>
<circle cx="676.2" cy="335.2" r="3.2"/>
<circle cx="676.2" cy="335.3" r="3.2"/>
<circle cx="676.3" cy="335.3" r="3.2"/>
<circle cx="676.3" cy="335.3" r="3.2"/>
<circle cx="676.4" cy="335.4" r="3.2"/>
<circle cx="676.4" cy="335.4" r="3.2"/>
<circle cx="676.5" cy="335.4" r="3.2"/>
<circle cx="676.5" cy="335.5" r="3.2"/>
<circle cx="676.6" cy="335.5" r="3.2"/>
<circle cx="676.6" cy="335.5" r="3.2"/>
<circle cx="676.7" cy="335.5" r="3.2"/>
<circle cx="676.7" cy="335.6" r="3.2"/>
<circle cx="676.8" cy="335.6" r="3.2"/>
<circle cx="676.8" cy="335.6" r="3.2"/>
<circle cx="676.9" cy="335.7" r="3.2"/>
<circle cx="676.9" cy="335.7" r="3.2"/>
<circle cx="677.0" cy="335.7" r="3.2"/>
<circle cx="677.0" cy="335.7" r="3.2"/>
<circle cx="677.1" cy="335.8" r="3.2"/>
<circle cx="677.1" cy="335.8" r="3.2"/>
<circle cx="677.2" cy="335.8" r="3.2"/>
<circle cx="677.2" cy="335.9" r="3.2"/>
<circle cx="677.3" cy="335.9" r="3.2"/>
<circle cx="677.3" cy="335.9" r="3.2"/>
<circle cx="677.3" cy="335.9" r="3.2"/>
<circle cx="677.4" cy="336.0" r="3.2"/>
<circle cx="677.4" cy="336.0" r="3.2"/>
<circle cx="677.5" cy="336.0" r="3.2"/>
<circle cx="677.5" cy="336.1" r="3.2"/>
<circle cx="677.6" cy="336.1" r="3.2"/>
<circle cx="677.6" cy="336.1" r="3.2"/>
<circle cx="677.7" cy="336.1" r="3.2"/>
<circle cx="677.7" cy="336.2" r="3.2"/>
<circle cx="677.8" cy="336.2" r="3.2"/>
<circle cx="677.8" cy="336.2" r="3.2"/>
<circle cx="677.9" cy="336.2" r="3.2"/>
<circle cx="677.9" cy="336.3" r="3.2"/>
<circle cx="678.0" cy="336.3" r="3.2"/>
<circle cx="678.0" cy="336.3" r="3.2"/>
<circle cx="678.1" cy="336.4" r="3.2"/>
<circle cx="678.1" cy="336.4" r="3.2"/>
<circle cx="678.2" cy="336.4" r="3.2"/>
<circle cx="678.2" cy="336.4" r="3.2"/>
<circle cx="678.3" cy="336.5" r="3.2"/>
<circle cx="678.3" cy="336.5" r="3.2"/>
<circle cx="678.3" cy="336.5" r="3.2"/>
<circle cx="678.4" cy="336.6" r="3.2"/>
<circle cx="678.4" cy="336.6" r="3.2"/>
<circle cx="678.5" cy="336.6" r="3.2"/>
<circle cx="678.5" cy="336.6" r="3.2"/>
<circle cx="678.6" cy="336.7" r="3.2"/>
<circle cx="678.6" cy="336.7" r="3.2"/>
<circle cx="678.7" cy="336.7" r="3.2"/>
<circle cx="678.7" cy="336.8" r="3.2"/>
<circle cx="678.8" cy="336.8" r="3.2"/>
<circle cx="678.8" cy="336.8" r="3.2"/>
<circle cx="678.9" cy="336.8" r="3.2"/>
<circle cx="678.9" cy="336.9" r="3.2"/>
<circle cx="679.0" cy="336.9" r="3.2"/>
<circle cx="679.0" cy="336.9" r="3.2"/>
<circle cx="679.1" cy="336.9" r="3.2"/>
<circle cx="679.1" cy="337.0" r="3.2"/>
<circle cx="679.1" cy="337.0" r="3.2"/>
<circle cx="679.2" cy="337.0" r="3.2"/>
<circle cx="679.2" cy="337.1" r="3.2"/>
<circle cx="679.3" cy="337.1" r="3.2"/>
<circle cx="679.3" cy="337.1" r="3.2"/>
<circle cx="679.4" cy="337.1" r="3.2"/>
<circle cx="679.4" cy="337.2" r="3.2"/>
<circle cx="679.5" cy="337.2" r="3.2"/>
<circle cx="679.5" cy="337.2" r="3.2"/>
<circle cx="679.6" cy="337.3" r="3.2"/>
<circle cx="679.6" cy="337.3" r="3.2"/>
<circle cx="679.7" cy="337.3" r="3.2"/>
<circle cx="679.7" cy="337.3" r="3.2"/>
<circle cx="679.8" cy="337.4" r="3.2"/>
<circle cx="679.8" cy="337.4" r="3.2"/>
<circle cx="679.8" cy="337.4" r="3.2"/>
<circle cx="679.9" cy="337.4" r="3.2"/>
<circle cx="679.9" cy="337.5" r="3.2"/>
<circle cx="680.0" cy="337.5" r="3.2"/>
<circle cx="680.0" cy="337.5" r="3.2"/>
<circle cx="680.1" cy="337.6" r="3.2"/>
<circle cx="680.1" cy="337.6" r="3.2"/>
<circle cx="680.2" cy="337.6" r="3.2"/>
<circle cx="680.2" cy="337.6" r="3.2"/>
<circle cx="680.3" cy="337.7" r="3.2"/>
<circle cx="680.3" cy="337.7" r="3.2"/>
<circle cx="680.4" cy="337.7" r="3.2"/>
<circle cx="680.4" cy="337.7" r="3.2"/>
<circle cx="680.4" cy="337.8" r="3.2"/>
<circle cx="680.5" cy="337.8" r="3.2"/>
<circle cx="680.5" cy="337.8" r="3.2"/>
<circle cx="680.6" cy="337.9" r="3.2"/>
<circle cx="680.6" cy="337.9" r="3.2"/>
<circle cx="680.7" cy="337.9" r="3.2"/>
<circle cx="680.7" cy="337.9" r="3.2"/>
<circle cx="680.8" cy="338.0" r="3.2"/>
<circle cx="680.8" cy="338.0" r="3.2"/>
<circle cx="680.9" cy="338.0" r="3.2"/>
<circle cx="680.9" cy="338.0" r="3.2"/>
<circle cx="680.9" cy="338.1" r="3.2"/>
<circle cx="681.0" cy="338.1" r="3.2"/>
<circle cx="681.0" cy="338.1" r="3.2"/>
<circle cx="681.1" cy="338.2" r="3.2"/>
<circle cx="681.1" cy="338.2" r="3.2"/>
<circle cx="681.2" cy="338.2" r="3.2"/>
<circle cx="681.2" cy="338.2" r="3.2"/>
<circle cx="681.3" cy="338.3" r="3.2"/>
<circle cx="681.3" cy="338.3" r="3.2"/>
<circle cx="681.4" cy="338.3" r="3.2"/>
<circle cx="681.4" cy="338.3" r="3.2"/>
<circle cx="681.4" cy="338.4" r="3.2"/>
<circle cx="681.5" cy="338.4" r="3.2"/>
<circle cx="681.5" cy="338.4" r="3.2"/>
<circle cx="681.6" cy="338.4" r="3.2"/>
<circle cx="681.6" cy="338.5" r="3.2"/>
<circle cx="681.7" cy="338.5" r="3.2"/>
<circle cx="681.7" cy="338.5" r="3.2"/>
<circle cx="681.8" cy="338.6" r="3.2"/>
<circle cx="681.8" cy="338.6" r="3.2"/>
<circle cx="681.9" cy="338.6" r="3.2"/>
<circle cx="681.9" cy="338.6" r="3.2"/>
<circle cx="681.9" cy="338.7" r="3.2"/>
<circle cx="682.0" cy="338.7" r="3.2"/>
<circle cx="682.0" cy="338.7" r="3.2"/>
<circle cx="682.1" cy="338.7" r="3.2"/>
<circle cx="682.1" cy="338.8" r="3.2"/>
<circle cx="682.2" cy="338.8" r="3.2"/>
<circle cx="682.2" cy="338.8" r="3.2"/>
<circle cx="682.3" cy="338.9" r="3.2"/>
<circle cx="682.3" cy="338.9" r="3.2"/>
<circle cx="682.3" cy="338.9" r="3.2"/>
<circle cx="682.4" cy="338.9" r="3.2"/>
<circle cx="682.4" cy="339.0" r="3.2"/>
<circle cx="682.5" cy="339.0" r="3.2"/>
<circle cx="682.5" cy="339.0" r="3.2"/>
<circle cx="682.6" cy="339.0" r="3.2"/>
<circle cx="682.6" cy="339.1" r="3.2"/>
<circle cx="682.7" cy="339.1" r="3.2"/>
<circle cx="682.7" cy="339.1" r="3.2"/>
<circle cx="682.7" cy="339.1" r="3.2"/>
<circle cx="682.8" cy="339.2" r="3.2"/>
</g>
<g fill="#f08228">
<circle cx="322.0" cy="103.9" r="3.2"/>
<circle cx="371.3" cy="134.6" r="3.2"/>
<circle cx="400.1" cy="151.7" r="3.2"/>
<circle cx="420.5" cy="163.9" r="3.2"/>
<circle cx="436.4" cy="173.3" r="3.2"/>
<circle cx="449.4" cy="180.9" r="3.2"/>
<circle cx="460.3" cy="187.4" r="3.2"/>
<circle cx="469.8" cy="193.1" r="3.2"/>
<circle cx="478.2" cy="198.0" r="3.2"/>
<circle cx="485.7" cy="202.5" r="3.2"/>
<circle cx="492.5" cy="206.5" r="3.2"/>
<circle cx="498.6" cy="210.1" r="3.2"/>
<circle cx="504.3" cy="213.5" r="3.2"/>
<circle cx="509.6" cy="216.6" r="3.2"/>
<circle cx="514.5" cy="219.5" r="3.2"/>
<circle cx="519.1" cy="222.3" r="3.2"/>
<circle cx="523.4" cy="224.8" r="3.2"/>
<circle cx="527.5" cy="227.2" r="3.2"/>
<circle cx="531.3" cy="229.5" r="3.2"/>
<circle cx="535.0" cy="231.7" r="3.2"/>
<circle cx="538.4" cy="233.7" r="3.2"/>
<circle cx="541.7" cy="235.7" r="3.2"/>
<circle cx="544.9" cy="237.5" r="3.2"/>
<circle cx="547.9" cy="239.3" r="3.2"/>
<circle cx="550.8" cy="241.1" r="3.2"/>
<circle cx="553.6" cy="242.7" r="3.2"/>
<circle cx="556.3" cy="244.3" r="3.2"/>
<circle cx="558.9" cy="245.8" r="3.2"/>
<circle cx="561.4" cy="247.3" r="3.2"/>
<circle cx="563.8" cy="248.7" r="3.2"/>
<circle cx="566.1" cy="250.1" r="3.2"/>
<circle cx="568.4" cy="251.5" r="3.2"/>
<circle cx="570.6" cy="252.8" r="3.2"/>
<circle cx="572.7" cy="254.0" r="3.2"/>
<circle cx="574.7" cy="255.2" r="3.2"/>
<circle cx="576.7" cy="256.4" r="3.2"/>
<circle cx="578.7" cy="257.6" r="3.2"/>
<circle cx="580.6" cy="258.7" r="3.2"/>
<circle cx="582.4" cy="259.8" r="3.2"/>
<circle cx="584.2" cy="260.9" r="3.2"/>
<circle cx="586.0" cy="261.9" r="3.2"/>
<circle cx="587.7" cy="262.9" r="3.2"/>
<circle cx="589.4" cy="263.9" r="3.2"/>
<circle cx="591.0" cy="264.9" r="3.2"/>
<circle cx="592.6" cy="265.8" r="3.2"/>
<circle cx="594.2" cy="266.7" r="3.2"/>
<circle cx="595.7" cy="267.7" r="3.2"/>
<circle cx="597.2" cy="268.5" r="3.2"/>
<circle cx="598.7" cy="269.4" r="3.2"/>
<circle cx="600.1" cy="270.3" r="3.2"/>
<circle cx="601.5" cy="271.1" r="3.2"/>
<circle cx="602.9" cy="271.9" r="3.2"/>
<circle cx="604.2" cy="272.7" r="3.2"/>
<circle cx="605.6" cy="273.5" r="3.2"/>
<circle cx="606.9" cy="274.3" r="3.2"/>
<circle cx="608.2" cy="275.0" r="3.2"/>
<circle cx="609.4" cy="275.8" r="3.2"/>
<circle cx="610.7" cy="276.5" r="3.2"/>
<circle cx="611.9" cy="277.2" r="3.2"/>
<circle cx="613.1" cy="277.9" r="3.2"/>
<circle cx="614.2" cy="278.6" r="3.2"/>
<circle cx="615.4" cy="279.3" r="3.2"/>
<circle cx="616.5" cy="280.0" r="3.2"/>
<circle cx="617.7" cy="280.7" r="3.2"/>
<circle cx="618.8" cy="281.3" r="3.2"/>
<circle cx="619.8" cy="282.0" r="3.2"/>
<circle cx="620.9" cy="282.6" r="3.2"/>
<circle cx="622.0" cy="283.2" r="3.2"/>
<circle cx="623.0" cy="283.8" r="3.2"/>
<circle cx="624.0" cy="284.4" r="3.2"/>
<circle cx="625.0" cy="285.0" r="3.2"/>
<circle cx="626.0" cy="285.6" r="3.2"/>
<circle cx="627.0" cy="286.2" r="3.2"/>
<circle cx="628.0" cy="286.8" r="3.2"/>
<circle cx="628.9" cy="287.3" r="3.2"/>
<circle cx="629.9" cy="287.9" r="3.2"/>
<circle cx="630.8" cy="288.4" r="3.2"/>
<circle cx="631.7" cy="289.0" r="3.2"/>
<circle cx="632.6" cy="289.5" r="3.2"/>
<circle cx="633.5" cy="290.1" r="3.2"/>
<circle cx="634.4" cy="290.6" r="3.2"/>
<circle cx="635.3" cy="291.1" r="3.2"/>
<circle cx="636.1" cy="291.6" r="3.2"/>
<circle cx="637.0" cy="292.1" r="3.2"/>
<circle cx="637.8" cy="292.6" r="3.2"/>
<circle cx="638.7" cy="293.1" r="3.2"/>
<circle cx="639.5" cy="293.6" r="3.2"/>
<circle cx="640.3" cy="294.1" r="3.2"/>
<circle cx="641.1" cy="294.5" r="3.2"/>
<circle cx="641.9" cy="295.0" r="3.2"/>
<circle cx="642.7" cy="295.5" r="3.2"/>
<circle cx="643.5" cy="295.9" r="3.2"/>
<circle cx="644.2" cy="296.4" r="3.2"/>
<circle cx="645.0" cy="296.9" r="3.2"/>
<circle cx="645.7" cy="297.3" r="3.2"/>
<circle cx="646.5" cy="297.7" r="3.2"/>
<circle cx="647.2" cy="298.2" r="3.2"/>
<circle cx="647.9" cy="298.6" r="3.2"/>
<circle cx="648.7" cy="299.0" r="3.2"/>
<circle cx="649.4" cy="299.5" r="3.2"/>
<circle cx="650.1" cy="299.9" r="3.2"/>
<circle cx="650.8" cy="300.3" r="3.2"/>
<circle cx="651.5" cy="300.7" r="3.2"/>
<circle cx="652.2" cy="301.1" r="3.2"/>
<circle cx="652.8" cy="301.5" r="3.2"/>
<circle cx="653.5" cy="301.9" r="3.2"/>
<circle cx="654.2" cy="302.3" r="3.2"/>
<circle cx="654.9" cy="302.7" r="3.2"/>
<circle cx="655.5" cy="303.1" r="3.2"/>
<circle cx="656.2" cy="303.5" r="3.2"/>
<circle cx="656.8" cy="303.9" r="3.2"/>
<circle cx="657.4" cy="304.2" r="3.2"/>
<circle cx="658.1" cy="304.6" r="3.2"/>
<circle cx="658.7" cy="305.0" r="3.2"/>
<circle cx="659.3" cy="305.3" r="3.2"/>
<circle cx="659.9" cy="305.7" r="3.2"/>
<circle cx="660.5" cy="306.1" r="3.2"/>
<circle cx="661.1" cy="306.4" r="3.2"/>
<circle cx="661.7" cy="306.8" r="3.2"/>
<circle cx="662.3" cy="307.1" r="3.2"/>
<circle cx="662.9" cy="307.5" r="3.2"/>
<circle cx="663.5" cy="307.8" r="3.2"/>
<circle cx="664.1" cy="308.2" r="3.2"/>
<circle cx="664.7" cy="308.5" r="3.2"/>
<circle cx="665.2" cy="308.9" r="3.2"/>
<circle cx="665.8" cy="309.2" r="3.2"/>
<circle cx="666.4" cy="309.5" r="3.2"/>
<circle cx="666.9" cy="309.9" r="3.2"/>
<circle cx="667.5" cy="310.2" r="3.2"/>
<circle cx="668.0" cy="310.5" r="3.2"/>
<circle cx="668.6" cy="310.8" r="3.2"/>
<circle cx="669.1" cy="311.2" r="3.2"/>
<circle cx="669.7" cy="311.5" r="3.2"/>
<circle cx="670.2" cy="311.8" r="3.2"/>
<circle cx="670.7" cy="312.1" r="3.2"/>
<circle cx="671.2" cy="312.4" r="3.2"/>
<circle cx="671.8" cy="312.7" r="3.2"/>
<circle cx="672.3" cy="313.0" r="3.2"/>
<circle cx="672.8" cy="313.3" r="3.2"/>
<circle cx="673.3" cy="313.6" r="3.2"/>
<circle cx="673.8" cy="313.9" r="3.2"/>
<circle cx="674.3" cy="314.2" r="3.2"/>
<circle cx="674.8" cy="314.5" r="3.2"/>
<circle cx="675.3" cy="314.8" r="3.2"/>
<circle cx="675.8" cy="315.1" r="3.2"/>
<circle cx="676.3" cy="315.4" r="3.2"/>
<circle cx="676.8" cy="315.7" r="3.2"/>
<circle cx="677.3" cy="316.0" r="3.2"/>
<circle cx="677.7" cy="316.3" r="3.2"/>
<circle cx="678.2" cy="316.5" r="3.2"/>
<circle cx="678.7" cy="316.8" r="3.2"/>
<circle cx="679.1" cy="317.1" r="3.2"/>
<circle cx="679.6" cy="317.4" r="3.2"/>
<circle cx="680.1" cy="317.6" r="3.2"/>
<circle cx="680.5" cy="317.9" r="3.2"/>
<circle cx="681.0" cy="318.2" r="3.2"/>
<circle cx="681.4" cy="318.5" r="3.2"/>
<circle cx="681.9" cy="318.7" r="3.2"/>
<circle cx="682.3" cy="319.0" r="3.2"/>
<circle cx="682.8" cy="319.3" r="3.2"/>
</g>
<g fill="#46aa3c">
<circle cx="371.3" cy="118.0" r="3.2"/>
<circle cx="420.5" cy="149.2" r="3.2"/>
<circle cx="449.4" cy="166.4" r="3.2"/>
<circle cx="469.8" cy="178.5" r="3.2"/>
<circle cx="485.7" cy="188.0" r="3.2"/>
<circle cx="498.6" cy="195.6" r="3.2"/>
<circle cx="509.6" cy="202.1" r="3.2"/>
<circle cx="519.1" cy="207.8" r="3.2"/>
<circle cx="527.5" cy="212.7" r="3.2"/>
<circle cx="535.0" cy="217.2" r="3.2"/>
<circle cx="541.7" cy="221.2" r="3.2"/>
<circle cx="547.9" cy="224.8" r="3.2"/>
<circle cx="553.6" cy="228.2" r="3.2"/>
<circle cx="558.9" cy="231.3" r="3.2"/>
<circle cx="563.8" cy="234.2" r="3.2"/>
<circle cx="568.4" cy="237.0" r="3.2"/>
<circle cx="572.7" cy="239.5" r="3.2"/>
<circle cx="576.7" cy="241.9" r="3.2"/>
<circle cx="580.6" cy="244.2" r="3.2"/>
<circle cx="584.2" cy="246.4" r="3.2"/>
<circle cx="587.7" cy="248.4" r="3.2"/>
<circle cx="591.0" cy="250.4" r="3.2"/>
<circle cx="594.2" cy="252.2" r="3.2"/>
<circle cx="597.2" cy="254.0" r="3.2"/>
<circle cx="600.1" cy="255.8" r="3.2"/>
<circle cx="602.9" cy="257.4" r="3.2"/>
<circle cx="605.6" cy="259.0" r="3.2"/>
<circle cx="608.2" cy="260.5" r="3.2"/>
<circle cx="610.7" cy="262.0" r="3.2"/>
<circle cx="613.1" cy="263.4" r="3.2"/>
<circle cx="615.4" cy="264.8" r="3.2"/>
<circle cx="617.7" cy="266.2" r="3.2"/>
<circle cx="619.8" cy="267.5" r="3.2"/>
<circle cx="622.0" cy="268.7" r="3.2"/>
<circle cx="624.0" cy="269.9" r="3.2"/>
<circle cx="626.0" cy="271.1" r="3.2"/>
<circle cx="628.0" cy="272.3" r="3.2"/>
<circle cx="629.9" cy="273.4" r="3.2"/>
<circle cx="631.7" cy="274.5" r="3.2"/>
<circle cx="633.5" cy="275.6" r="3.2"/>
<circle cx="635.3" cy="276.6" r="3.2"/>
<circle cx="637.0" cy="277.6" r="3.2"/>
<circle cx="638.7" cy="278.6" r="3.2"/>
<circle cx="640.3" cy="279.6" r="3.2"/>
<circle cx="641.9" cy="280.5" r="3.2"/>
<circle cx="643.5" cy="281.4" r="3.2"/>
<circle cx="645.0" cy="282.4" r="3.2"/>
<circle cx="646.5" cy="283.2" r="3.2"/>
<circle cx="647.9" cy="284.1" r="3.2"/>
<circle cx="649.4" cy="285.0" r="3.2"/>
<circle cx="650.8" cy="285.8" r="3.2"/>
<circle cx="652.2" cy="286.6" r="3.2"/>
<circle cx="653.5" cy="287.4" r="3.2"/>
<circle cx="654.9" cy="288.2" r="3.2"/>
<circle cx="656.2" cy="289.0" r="3.2"/>
<circle cx="657.4" cy="289.7" r="3.2"/>
<circle cx="658.7" cy="290.5" r="3.2"/>
<circle cx="659.9" cy="291.2" r="3.2"/>
<circle cx="661.1" cy="291.9" r="3.2"/>
<circle cx="662.3" cy="292.6" r="3.2"/>
<circle cx="663.5" cy="293.3" r="3.2"/>
<circle cx="664.7" cy="294.0" r="3.2"/>
<circle cx="665.8" cy="294.7" r="3.2"/>
<circle cx="666.9" cy="295.4" r="3.2"/>
<circle cx="668.0" cy="296.0" r="3.2"/>
<circle cx="669.1" cy="296.7" r="3.2"/>
<circle cx="670.2" cy="297.3" r="3.2"/>
<circle cx="671.2" cy="297.9" r="3.2"/>
<circle cx="672.3" cy="298.5" r="3.2"/>
<circle cx="673.3" cy="299.1" r="3.2"/>
<circle cx="674.3" cy="299.7" r="3.2"/>
<circle cx="675.3" cy="300.3" r="3.2"/>
<circle cx="676.3" cy="300.9" r="3.2"/>
<circle cx="677.3" cy="301.5" r="3.2"/>
<circle cx="678.2" cy="302.0" r="3.2"/>
<circle cx="679.1" cy="302.6" r="3.2"/>
<circle cx="680.1" cy="303.1" r="3.2"/>
<circle cx="681.0" cy="303.7" r="3.2"/>
<circle cx="681.9" cy="304.2" r="3.2"/>
<circle cx="682.8" cy="304.8" r="3.2"/>
</g>
<g fill="#dc2d32">
<circle cx="400.1" cy="124.3" r="3.2"/>
<circle cx="449.4" cy="155.9" r="3.2"/>
<circle cx="478.2" cy="173.1" r="3.2"/>
<circle cx="498.6" cy="185.2" r="3.2"/>
<circle cx="514.5" cy="194.6" r="3.2"/>
<circle cx="527.5" cy="202.3" r="3.2"/>
<circle cx="538.4" cy="208.8" r="3.2"/>
<circle cx="547.9" cy="214.4" r="3.2"/>
<circle cx="556.3" cy="219.4" r="3.2"/>
<circle cx="563.8" cy="223.8" r="3.2"/>
<circle cx="570.6" cy="227.8" r="3.2"/>
<circle cx="576.7" cy="231.5" r="3.2"/>
<circle cx="582.4" cy="234.9" r="3.2"/>
<circle cx="587.7" cy="238.0" r="3.2"/>
<circle cx="592.6" cy="240.9" r="3.2"/>
<circle cx="597.2" cy="243.6" r="3.2"/>
<circle cx="601.5" cy="246.2" r="3.2"/>
<circle cx="605.6" cy="248.6" r="3.2"/>
<circle cx="609.4" cy="250.9" r="3.2"/>
<circle cx="613.1" cy="253.0" r="3.2"/>
<circle cx="616.5" cy="255.1" r="3.2"/>
<circle cx="619.8" cy="257.0" r="3.2"/>
<circle cx="623.0" cy="258.9" r="3.2"/>
<circle cx="626.0" cy="260.7" r="3.2"/>
<circle cx="628.9" cy="262.4" r="3.2"/>
<circle cx="631.7" cy="264.1" r="3.2"/>
<circle cx="634.4" cy="265.7" r="3.2"/>
<circle cx="637.0" cy="267.2" r="3.2"/>
<circle cx="639.5" cy="268.7" r="3.2"/>
<circle cx="641.9" cy="270.1" r="3.2"/>
<circle cx="644.2" cy="271.5" r="3.2"/>
<circle cx="646.5" cy="272.8" r="3.2"/>
<circle cx="648.7" cy="274.1" r="3.2"/>
<circle cx="650.8" cy="275.4" r="3.2"/>
<circle cx="652.8" cy="276.6" r="3.2"/>
<circle cx="654.9" cy="277.8" r="3.2"/>
<circle cx="656.8" cy="278.9" r="3.2"/>
<circle cx="658.7" cy="280.1" r="3.2"/>
<circle cx="660.5" cy="281.2" r="3.2"/>
<circle cx="662.3" cy="282.2" r="3.2"/>
<circle cx="664.1" cy="283.3" r="3.2"/>
<circle cx="665.8" cy="284.3" r="3.2"/>
<circle cx="667.5" cy="285.3" r="3.2"/>
<circle cx="669.1" cy="286.2" r="3.2"/>
<circle cx="670.7" cy="287.2" r="3.2"/>
<circle cx="672.3" cy="288.1" r="3.2"/>
<circle cx="673.8" cy="289.0" r="3.2"/>
<circle cx="675.3" cy="289.9" r="3.2"/>
<circle cx="676.8" cy="290.8" r="3.2"/>
<circle cx="678.2" cy="291.6" r="3.2"/>
<circle cx="679.6" cy="292.5" r="3.2"/>
<circle cx="681.0" cy="293.3" r="3.2"/>
<circle cx="682.3" cy="294.1" r="3.2"/>
</g>
<g fill="#9669c8">
<circle cx="420.5" cy="127.9" r="3.2"/>
<circle cx="469.8" cy="159.6" r="3.2"/>
<circle cx="498.6" cy="177.0" r="3.2"/>
<circle cx="519.1" cy="189.1" r="3.2"/>
<circle cx="535.0" cy="198.5" r="3.2"/>
<circle cx="547.9" cy="206.1" r="3.2"/>
<circle cx="558.9" cy="212.6" r="3.2"/>
<circle cx="568.4" cy="218.2" r="3.2"/>
<circle cx="576.7" cy="223.2" r="3.2"/>
<circle cx="584.2" cy="227.6" r="3.2"/>
<circle cx="591.0" cy="231.6" r="3.2"/>
<circle cx="597.2" cy="235.3" r="3.2"/>
<circle cx="602.9" cy="238.7" r="3.2"/>
<circle cx="608.2" cy="241.8" r="3.2"/>
<circle cx="613.1" cy="244.7" r="3.2"/>
<circle cx="617.7" cy="247.4" r="3.2"/>
<circle cx="622.0" cy="250.0" r="3.2"/>
<circle cx="626.0" cy="252.4" r="3.2"/>
<circle cx="629.9" cy="254.6" r="3.2"/>
<circle cx="633.5" cy="256.8" r="3.2"/>
<circle cx="637.0" cy="258.9" r="3.2"/>
<circle cx="640.3" cy="260.8" r="3.2"/>
<circle cx="643.5" cy="262.7" r="3.2"/>
<circle cx="646.5" cy="264.5" r="3.2"/>
<circle cx="649.4" cy="266.2" r="3.2"/>
<circle cx="652.2" cy="267.9" r="3.2"/>
<circle cx="654.9" cy="269.4" r="3.2"/>
<circle cx="657.4" cy="271.0" r="3.2"/>
<circle cx="659.9" cy="272.5" r="3.2"/>
<circle cx="662.3" cy="273.9" r="3.2"/>
<circle cx="664.7" cy="275.3" r="3.2"/>
<circle cx="666.9" cy="276.6" r="3.2"/>
<circle cx="669.1" cy="277.9" r="3.2"/>
<circle cx="671.2" cy="279.2" r="3.2"/>
<circle cx="673.3" cy="280.4" r="3.2"/>
<circle cx="675.3" cy="281.6" r="3.2"/>
<circle cx="677.3" cy="282.7" r="3.2"/>
<circle cx="679.1" cy="283.8" r="3.2"/>
<circle cx="681.0" cy="284.9" r="3.2"/>
<circle cx="682.8" cy="286.0" r="3.2"/>
</g>
<g fill="#915f50">
<circle cx="436.4" cy="130.2" r="3.2"/>
<circle cx="485.7" cy="162.1" r="3.2"/>
<circle cx="514.5" cy="179.6" r="3.2"/>
<circle cx="535.0" cy="191.7" r="3.2"/>
<circle cx="550.8" cy="201.0" r="3.2"/>
<circle cx="563.8" cy="208.6" r="3.2"/>
<circle cx="574.7" cy="215.0" r="3.2"/>
<circle cx="584.2" cy="220.6" r="3.2"/>
<circle cx="592.6" cy="225.6" r="3.2"/>
<circle cx="600.1" cy="230.0" r="3.2"/>
<circle cx="606.9" cy="234.1" r="3.2"/>
<circle cx="613.1" cy="237.7" r="3.2"/>
<circle cx="618.8" cy="241.1" r="3.2"/>
<circle cx="624.0" cy="244.2" r="3.2"/>
<circle cx="628.9" cy="247.1" r="3.2"/>
<circle cx="633.5" cy="249.8" r="3.2"/>
<circle cx="637.8" cy="252.4" r="3.2"/>
<circle cx="641.9" cy="254.8" r="3.2"/>
<circle cx="645.7" cy="257.1" r="3.2"/>
<circle cx="649.4" cy="259.2" r="3.2"/>
<circle cx="652.8" cy="261.3" r="3.2"/>
<circle cx="656.2" cy="263.3" r="3.2"/>
<circle cx="659.3" cy="265.1" r="3.2"/>
<circle cx="662.3" cy="266.9" r="3.2"/>
<circle cx="665.2" cy="268.6" r="3.2"/>
<circle cx="668.0" cy="270.3" r="3.2"/>
<circle cx="670.7" cy="271.9" r="3.2"/>
<circle cx="673.3" cy="273.4" r="3.2"/>
<circle cx="675.8" cy="274.9" r="3.2"/>
<circle cx="678.2" cy="276.3" r="3.2"/>
<circle cx="680.5" cy="277.7" r="3.2"/>
<circle cx="682.8" cy="279.0" r="3.2"/>
</g>
<g fill="#e478cd">
<circle cx="449.4" cy="131.8" r="3.2"/>
<circle cx="498.6" cy="163.8" r="3.2"/>
<circle cx="527.5" cy="181.5" r="3.2"/>
<circle cx="547.9" cy="193.6" r="3.2"/>
<circle cx="563.8" cy="202.8" r="3.2"/>
<circle cx="576.7" cy="210.3" r="3.2"/>
<circle cx="587.7" cy="216.7" r="3.2"/>
<circle cx="597.2" cy="222.4" r="3.2"/>
<circle cx="605.6" cy="227.3" r="3.2"/>
<circle cx="613.1" cy="231.8" r="3.2"/>
<circle cx="619.8" cy="235.8" r="3.2"/>
<circle cx="626.0" cy="239.4" r="3.2"/>
<circle cx="631.7" cy="242.8" r="3.2"/>
<circle cx="637.0" cy="245.9" r="3.2"/>
<circle cx="641.9" cy="248.8" r="3.2"/>
<circle cx="646.5" cy="251.6" r="3.2"/>
<circle cx="650.8" cy="254.1" r="3.2"/>
<circle cx="654.9" cy="256.5" r="3.2"/>
<circle cx="658.7" cy="258.8" r="3.2"/>
<circle cx="662.3" cy="261.0" r="3.2"/>
<circle cx="665.8" cy="263.0" r="3.2"/>
<circle cx="669.1" cy="265.0" r="3.2"/>
<circle cx="672.3" cy="266.8" r="3.2"/>
<circle cx="675.3" cy="268.6" r="3.2"/>
<circle cx="678.2" cy="270.4" r="3.2"/>
<circle cx="681.0" cy="272.0" r="3.2"/>
</g>
<g fill="#878787">
<circle cx="460.3" cy="133.1" r="3.2"/>
<circle cx="509.6" cy="164.9" r="3.2"/>
<circle cx="538.4" cy="182.9" r="3.2"/>
<circle cx="558.9" cy="195.0" r="3.2"/>
<circle cx="574.7" cy="204.2" r="3.2"/>
<circle cx="587.7" cy="211.6" r="3.2"/>
<circle cx="598.7" cy="218.0" r="3.2"/>
<circle cx="608.2" cy="223.6" r="3.2"/>
<circle cx="616.5" cy="228.6" r="3.2"/>
<circle cx="624.0" cy="233.0" r="3.2"/>
<circle cx="630.8" cy="237.0" r="3.2"/>
<circle cx="637.0" cy="240.7" r="3.2"/>
<circle cx="642.7" cy="244.1" r="3.2"/>
<circle cx="647.9" cy="247.2" r="3.2"/>
<circle cx="652.8" cy="250.1" r="3.2"/>
<circle cx="657.4" cy="252.8" r="3.2"/>
<circle cx="661.7" cy="255.4" r="3.2"/>
<circle cx="665.8" cy="257.8" r="3.2"/>
<circle cx="669.7" cy="260.1" r="3.2"/>
<circle cx="673.3" cy="262.2" r="3.2"/>
<circle cx="676.8" cy="264.3" r="3.2"/>
<circle cx="680.1" cy="266.2" r="3.2"/>
</g>
<g fill="#bec337">
<circle cx="469.8" cy="134.0" r="3.2"/>
<circle cx="519.1" cy="165.6" r="3.2"/>
<circle cx="547.9" cy="184.0" r="3.2"/>
<circle cx="568.4" cy="196.2" r="3.2"/>
<circle cx="584.2" cy="205.3" r="3.2"/>
<circle cx="597.2" cy="212.6" r="3.2"/>
<circle cx="608.2" cy="219.0" r="3.2"/>
<circle cx="617.7" cy="224.6" r="3.2"/>
<circle cx="626.0" cy="229.6" r="3.2"/>
<circle cx="633.5" cy="234.0" r="3.2"/>
<circle cx="640.3" cy="238.0" r="3.2"/>
<circle cx="646.5" cy="241.7" r="3.2"/>
<circle cx="652.2" cy="245.0" r="3.2"/>
<circle cx="657.4" cy="248.2" r="3.2"/>
<circle cx="662.3" cy="251.1" r="3.2"/>
<circle cx="666.9" cy="253.8" r="3.2"/>
<circle cx="671.2" cy="256.3" r="3.2"/>
<circle cx="675.3" cy="258.8" r="3.2"/>
<circle cx="679.1" cy="261.0" r="3.2"/>
<circle cx="682.8" cy="263.2" r="3.2"/>
</g>
<g fill="#4bc3d2">
<circle cx="478.2" cy="134.7" r="3.2"/>
<circle cx="527.5" cy="166.2" r="3.2"/>
<circle cx="556.3" cy="184.8" r="3.2"/>
<circle cx="576.7" cy="196.9" r="3.2"/>
<circle cx="592.6" cy="206.0" r="3.2"/>
<circle cx="605.6" cy="213.4" r="3.2"/>
<circle cx="616.5" cy="219.8" r="3.2"/>
<circle cx="626.0" cy="225.4" r="3.2"/>
<circle cx="634.4" cy="230.3" r="3.2"/>
<circle cx="641.9" cy="234.8" r="3.2"/>
<circle cx="648.7" cy="238.8" r="3.2"/>
<circle cx="654.9" cy="242.4" r="3.2"/>
<circle cx="660.5" cy="245.8" r="3.2"/>
<circle cx="665.8" cy="248.9" r="3.2"/>
<circle cx="670.7" cy="251.8" r="3.2"/>
<circle cx="675.3" cy="254.6" r="3.2"/>
<circle cx="679.6" cy="257.1" r="3.2"/>
</g>
<g fill="#3f80ba">
<circle cx="485.7" cy="135.3" r="3.2"/>
<circle cx="535.0" cy="166.5" r="3.2"/>
<circle cx="563.8" cy="185.4" r="3.2"/>
<circle cx="584.2" cy="197.6" r="3.2"/>
<circle cx="600.1" cy="206.7" r="3.2"/>
<circle cx="613.1" cy="214.0" r="3.2"/>
<circle cx="624.0" cy="220.4" r="3.2"/>
<circle cx="633.5" cy="226.0" r="3.2"/>
<circle cx="641.9" cy="231.0" r="3.2"/>
<circle cx="649.4" cy="235.4" r="3.2"/>
<circle cx="656.2" cy="239.4" r="3.2"/>
<circle cx="662.3" cy="243.1" r="3.2"/>
<circle cx="668.0" cy="246.4" r="3.2"/>
<circle cx="673.3" cy="249.6" r="3.2"/>
<circle cx="678.2" cy="252.5" r="3.2"/>
<circle cx="682.8" cy="255.2" r="3.2"/>
</g>
</g>
<g stroke="#000" stroke-linecap="square">
<line x1="108.7" y1="4.1" x2="108.7" y2="431.4" stroke-width="1.4"/>
<line x1="682.15" y1="4.1" x2="682.15" y2="431.4" stroke-width="1.4"/>
<line x1="108.7" y1="4.199999999999999" x2="682.15" y2="4.199999999999999" stroke-width="1.6"/>
<line x1="108.7" y1="431.4" x2="682.15" y2="431.4" stroke-width="1.1"/>
</g>
<g stroke="#000">
<line x1="108.7" y1="431.4" x2="108.7" y2="437" stroke-width="1.4"/>
<line x1="272.8" y1="431.4" x2="272.8" y2="437" stroke-width="1.4"/>
<line x1="436.5" y1="431.4" x2="436.5" y2="437" stroke-width="1.4"/>
<line x1="550.9" y1="431.4" x2="550.9" y2="437" stroke-width="1.4"/>
<line x1="600.2" y1="431.4" x2="600.2" y2="437" stroke-width="1.4"/>
<line x1="649.5" y1="431.4" x2="649.5" y2="437" stroke-width="1.4"/>
<line x1="102.7" y1="81.4" x2="108.7" y2="81.4" stroke-width="1.1"/>
<line x1="102.7" y1="178.4" x2="108.7" y2="178.4" stroke-width="1.1"/>
<line x1="102.7" y1="275.4" x2="108.7" y2="275.4" stroke-width="1.1"/>
<line x1="102.7" y1="372.4" x2="108.7" y2="372.4" stroke-width="1.1"/>
</g>
<text x="110.0" y="460.3" font-size="20.8" text-anchor="middle" transform="rotate(20 110.0 452.7)">1</text>
<text x="273.7" y="462.6" font-size="20.8" text-anchor="middle" transform="rotate(20 273.7 455.0)">10</text>
<text x="437.4" y="464.8" font-size="20.8" text-anchor="middle" transform="rotate(20 437.4 457.2)">100</text>
<text x="551.8" y="464.8" font-size="20.8" text-anchor="middle" transform="rotate(20 551.8 457.2)">500</text>
<text x="601.1" y="467.1" font-size="20.8" text-anchor="middle" transform="rotate(20 601.1 459.5)">1000</text>
<text x="650.4" y="467.1" font-size="20.8" text-anchor="middle" transform="rotate(20 650.4 459.5)">2000</text>
<text x="98.8" y="89.0" font-size="20.2" text-anchor="end">1</text>
<text x="98.0" y="186.5" font-size="20.8" text-anchor="end">10<tspan font-size="15" dy="-7.7">−0.5</tspan></text>
<text x="98.0" y="283.5" font-size="20.8" text-anchor="end">10<tspan font-size="15" dy="-7.7">−1</tspan></text>
<text x="98.0" y="380.5" font-size="20.8" text-anchor="end">10<tspan font-size="15" dy="-7.7">−1.5</tspan></text>
<text x="395.6" y="508.6" font-size="30" text-anchor="middle">N</text>
<text x="24.6" y="224.6" font-size="30" letter-spacing="0.85" text-anchor="middle" transform="rotate(-90 24.6 224.6)">Error</text>
<rect x="117.5" y="256.6" width="341.2" height="165.79999999999995" rx="3.3" fill="#fff" fill-opacity="0.8" stroke="#ccc" stroke-opacity="0.9" stroke-width="1.3"/>
<circle cx="142.1" cy="271.7" r="3.2" fill="#3f80ba"/>
<text x="174.3" y="277.3" font-size="17.7"><tspan font-style="oblique">N</tspan><tspan font-style="oblique" font-size="12.4" dy="2.6">M</tspan><tspan dy="-2.6">=2</tspan></text>
<circle cx="142.1" cy="298.5" r="3.2" fill="#f08228"/>
<text x="174.3" y="304.1" font-size="17.7"><tspan font-style="oblique">N</tspan><tspan font-style="oblique" font-size="12.4" dy="2.6">M</tspan><tspan dy="-2.6">=20</tspan></text>
<circle cx="142.1" cy="325.2" r="3.2" fill="#46aa3c"/>
<text x="174.3" y="330.8" font-size="17.7"><tspan font-style="oblique">N</tspan><tspan font-style="oblique" font-size="12.4" dy="2.6">M</tspan><tspan dy="-2.6">=40</tspan></text>
<circle cx="142.1" cy="352.0" r="3.2" fill="#dc2d32"/>
<text x="174.3" y="357.6" font-size="17.7"><tspan font-style="oblique">N</tspan><tspan font-style="oblique" font-size="12.4" dy="2.6">M</tspan><tspan dy="-2.6">=60</tspan></text>
<circle cx="142.1" cy="378.8" r="3.2" fill="#9669c8"/>
<text x="174.3" y="384.4" font-size="17.7"><tspan font-style="oblique">N</tspan><tspan font-style="oblique" font-size="12.4" dy="2.6">M</tspan><tspan dy="-2.6">=80</tspan></text>
<circle cx="142.1" cy="405.7" r="3.2" fill="#915f50"/>
<text x="174.3" y="411.3" font-size="17.7"><tspan font-style="oblique">N</tspan><tspan font-style="oblique" font-size="12.4" dy="2.6">M</tspan><tspan dy="-2.6">=100</tspan></text>
<circle cx="299.4" cy="271.7" r="3.2" fill="#e478cd"/>
<text x="332.1" y="277.3" font-size="17.7"><tspan font-style="oblique">N</tspan><tspan font-style="oblique" font-size="12.4" dy="2.6">M</tspan><tspan dy="-2.6">=120</tspan></text>
<circle cx="299.4" cy="298.5" r="3.2" fill="#878787"/>
<text x="332.1" y="304.1" font-size="17.7"><tspan font-style="oblique">N</tspan><tspan font-style="oblique" font-size="12.4" dy="2.6">M</tspan><tspan dy="-2.6">=140</tspan></text>
<circle cx="299.4" cy="325.2" r="3.2" fill="#bec337"/>
<text x="332.1" y="330.8" font-size="17.7"><tspan font-style="oblique">N</tspan><tspan font-style="oblique" font-size="12.4" dy="2.6">M</tspan><tspan dy="-2.6">=160</tspan></text>
<circle cx="299.4" cy="352.0" r="3.2" fill="#4bc3d2"/>
<text x="332.1" y="357.6" font-size="17.7"><tspan font-style="oblique">N</tspan><tspan font-style="oblique" font-size="12.4" dy="2.6">M</tspan><tspan dy="-2.6">=180</tspan></text>
<circle cx="299.4" cy="378.8" r="3.2" fill="#3f80ba"/>
<text x="332.1" y="384.4" font-size="17.7"><tspan font-style="oblique">N</tspan><tspan font-style="oblique" font-size="12.4" dy="2.6">M</tspan><tspan dy="-2.6">=200</tspan></text>
<path d="M290.6 397.7L308.4 415.49999999999994M290.6 415.49999999999994L308.4 397.7" stroke="#e8201c" stroke-width="2.4" fill="none"/>
<text y="411.3" font-size="17.7"><tspan x="332.1">RM(</tspan><tspan x="366.0" font-style="oblique">N</tspan><tspan font-style="oblique" font-size="12.4" dy="2.6">M</tspan><tspan x="393.6" dy="-2.6">=</tspan><tspan x="412.1">200)</tspan></text>
</svg></body></html>
